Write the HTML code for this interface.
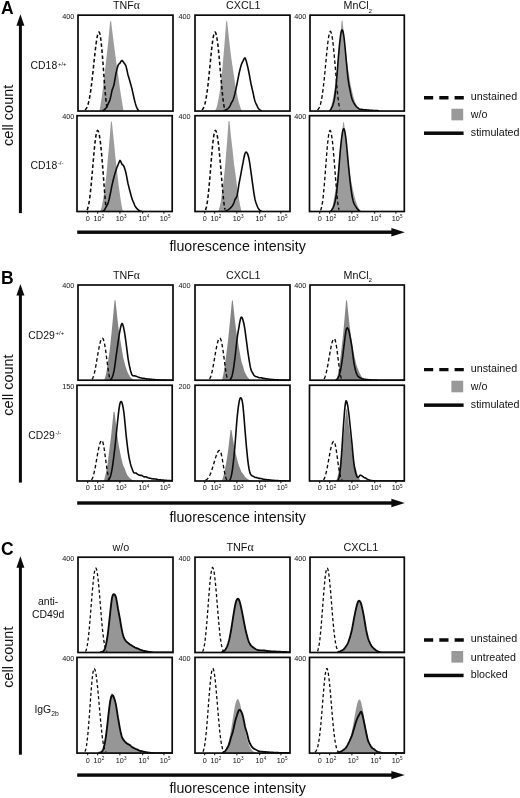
<!DOCTYPE html>
<html lang="en">
<head>
<meta charset="utf-8">
<title>Figure</title>
<style>
html,body{margin:0;padding:0;background:#ffffff;}
body{width:520px;height:798px;overflow:hidden;}
svg{display:block;will-change:transform;}
text{font-family:"Liberation Sans", Arial, Helvetica, sans-serif;fill:#111111;}
.letter{font-size:17.5px;font-weight:700;fill:#000;}
.t14{font-size:14.2px;}
.t10{font-size:10.7px;}
.t10c{font-size:10.8px;}
.t10r{font-size:10.4px;}
.t14r{font-size:14.5px;}
.t105{font-size:10.7px;}
.t7{font-size:7.3px;}
</style>
</head>
<body>
<svg width="520" height="798" viewBox="0 0 520 798">
<rect width="520" height="798" fill="#ffffff"/>
<text x="0.9" y="13.8" class="letter">A</text>
<rect x="18.90" y="23.15" width="3" height="189.95" fill="#0a0a0a"/>
<path d="M20.40 14.15 L24.40 25.75 L16.40 25.75 Z" fill="#0a0a0a"/>
<text transform="translate(12.5 115.3) rotate(-90)" text-anchor="middle" class="t14r">cell count</text>
<text x="126.5" y="8.9" text-anchor="middle" class="t10">TNF<tspan font-family='"Liberation Serif", "DejaVu Serif", serif' font-size="11.6">α</tspan></text>
<text x="243.3" y="8.9" text-anchor="middle" class="t10">CXCL1</text>
<text x="357.8" y="8.9" text-anchor="middle" class="t10">MnCl<tspan dy="3.6" font-size="6.2">2</tspan></text>
<clipPath id="cp_A00"><rect x="78.00" y="15.15" width="95.00" height="95.90"/></clipPath>
<g clip-path="url(#cp_A00)">
<path d="M78.00 111.05 L78.50 111.05 L79.00 111.05 L79.50 111.05 L80.00 111.05 L80.50 111.05 L81.00 111.05 L81.50 111.05 L82.00 111.05 L82.50 111.05 L83.00 111.05 L83.50 111.05 L84.00 111.05 L84.50 111.05 L85.00 111.05 L85.50 111.05 L86.00 111.05 L86.50 111.05 L87.00 111.05 L87.50 111.05 L88.00 111.05 L88.50 111.05 L89.00 111.05 L89.50 111.05 L90.00 111.05 L90.50 111.05 L91.00 111.05 L91.50 111.05 L92.00 111.05 L92.50 111.05 L93.00 111.05 L93.50 111.05 L94.00 111.05 L94.50 111.05 L95.00 111.05 L95.50 111.05 L96.00 111.05 L96.50 111.05 L97.00 111.05 L97.50 111.05 L98.00 111.05 L98.50 111.05 L99.00 111.05 L99.50 111.05 L100.00 107.69 L100.50 104.74 L101.00 101.76 L101.50 98.73 L102.00 95.63 L102.50 91.55 L103.00 87.32 L103.50 82.94 L104.00 78.88 L104.50 74.69 L105.00 70.40 L105.50 66.03 L106.00 61.57 L106.50 57.01 L107.00 52.67 L107.50 48.25 L108.00 43.75 L108.50 38.52 L109.00 33.23 L109.50 27.87 L110.00 22.59 L110.50 20.92 L111.00 20.82 L111.50 24.63 L112.00 28.82 L112.50 32.99 L113.00 36.97 L113.50 40.94 L114.00 44.88 L114.50 48.70 L115.00 52.49 L115.50 56.25 L116.00 60.07 L116.50 63.85 L117.00 67.60 L117.50 70.96 L118.00 74.29 L118.50 77.57 L119.00 81.39 L119.50 85.16 L120.00 88.88 L120.50 92.22 L121.00 95.50 L121.50 98.68 L122.00 101.71 L122.50 104.68 L123.00 107.54 L123.50 111.05 L124.00 111.05 L124.50 111.05 L125.00 111.05 L125.50 111.05 L126.00 111.05 L126.50 111.05 L127.00 111.05 L127.50 111.05 L128.00 111.05 L128.50 111.05 L129.00 111.05 L129.50 111.05 L130.00 111.05 L130.50 111.05 L131.00 111.05 L131.50 111.05 L132.00 111.05 L132.50 111.05 L133.00 111.05 L133.50 111.05 L134.00 111.05 L134.50 111.05 L135.00 111.05 L135.50 111.05 L136.00 111.05 L136.50 111.05 L137.00 111.05 L137.50 111.05 L138.00 111.05 L138.50 111.05 L139.00 111.05 L139.50 111.05 L140.00 111.05 L140.50 111.05 L141.00 111.05 L141.50 111.05 L142.00 111.05 L142.50 111.05 L143.00 111.05 L143.50 111.05 L144.00 111.05 L144.50 111.05 L145.00 111.05 L145.50 111.05 L146.00 111.05 L146.50 111.05 L147.00 111.05 L147.50 111.05 L148.00 111.05 L148.50 111.05 L149.00 111.05 L149.50 111.05 L150.00 111.05 L150.50 111.05 L151.00 111.05 L151.50 111.05 L152.00 111.05 L152.50 111.05 L153.00 111.05 L153.50 111.05 L154.00 111.05 L154.50 111.05 L155.00 111.05 L155.50 111.05 L156.00 111.05 L156.50 111.05 L157.00 111.05 L157.50 111.05 L158.00 111.05 L158.50 111.05 L159.00 111.05 L159.50 111.05 L160.00 111.05 L160.50 111.05 L161.00 111.05 L161.50 111.05 L162.00 111.05 L162.50 111.05 L163.00 111.05 L163.50 111.05 L164.00 111.05 L164.50 111.05 L165.00 111.05 L165.50 111.05 L166.00 111.05 L166.50 111.05 L167.00 111.05 L167.50 111.05 L168.00 111.05 L168.50 111.05 L169.00 111.05 L169.50 111.05 L170.00 111.05 L170.50 111.05 L171.00 111.05 L171.50 111.05 L172.00 111.05 L172.50 111.05 L173.00 111.05 L173.00 111.05 L78.00 111.05 Z" fill="#9c9c9c"/>
<path d="M85.00 109.95 L85.50 109.49 L86.00 108.90 L86.50 108.12 L87.00 107.14 L87.50 105.93 L88.00 104.44 L88.50 102.65 L89.00 100.54 L89.50 98.09 L90.00 95.27 L90.50 92.10 L91.00 88.58 L91.50 84.72 L92.00 80.56 L92.50 76.15 L93.00 71.55 L93.50 66.82 L94.00 62.05 L94.50 57.33 L95.00 52.75 L95.50 48.41 L96.00 44.41 L96.50 40.84 L97.00 37.78 L97.50 35.32 L98.00 33.52 L98.50 32.42 L99.00 32.05 L99.50 32.62 L100.00 34.31 L100.50 37.08 L101.00 40.84 L101.50 45.51 L102.00 50.94 L102.50 56.98 L103.00 63.46 L103.50 70.19 L104.00 76.97 L104.50 83.59 L105.00 89.84 L105.50 95.53 L106.00 100.48 L106.50 104.54 L107.00 107.61 L107.50 109.66" fill="none" stroke="#0a0a0a" stroke-width="1.55" stroke-dasharray="3.6 2.5"/>
<path d="M102.00 110.72 L102.50 110.59 L103.00 110.43 L103.50 110.21 L104.00 110.00 L104.50 109.64 L105.00 109.19 L105.50 108.62 L106.00 107.93 L106.50 107.19 L107.00 106.31 L107.50 105.30 L108.00 104.15 L108.50 103.12 L109.00 102.04 L109.50 100.91 L110.00 99.74 L110.50 97.64 L111.00 95.33 L111.50 92.92 L112.00 90.41 L112.50 89.10 L113.00 87.73 L113.50 86.29 L114.00 84.82 L114.50 81.90 L115.00 79.00 L115.50 76.12 L116.00 73.31 L116.50 71.16 L117.00 69.13 L117.50 67.24 L118.00 65.50 L118.50 64.62 L119.00 63.94 L119.50 63.48 L120.00 63.25 L120.50 62.19 L121.00 61.38 L121.50 60.83 L122.00 60.47 L122.50 60.87 L123.00 61.42 L123.50 62.14 L124.00 63.01 L124.50 63.56 L125.00 64.27 L125.50 65.11 L126.00 66.08 L126.50 68.15 L127.00 70.34 L127.50 72.64 L128.00 75.03 L128.50 76.60 L129.00 78.24 L129.50 79.96 L130.00 81.72 L130.50 83.51 L131.00 85.33 L131.50 87.16 L132.00 88.99 L132.50 91.30 L133.00 93.57 L133.50 95.79 L134.00 97.99 L134.50 100.14 L135.00 102.11 L135.50 103.89 L136.00 105.49 L136.50 106.86 L137.00 108.04 L137.50 109.02 L138.00 109.81 L138.50 110.31 L139.00 110.75" fill="none" stroke="#0a0a0a" stroke-width="1.60" stroke-linejoin="round"/>
</g>
<rect x="78.00" y="15.15" width="95.00" height="95.90" fill="none" stroke="#0a0a0a" stroke-width="1.70"/>
<text x="74.4" y="18.6" text-anchor="end" class="t7">400</text>
<clipPath id="cp_A01"><rect x="195.00" y="15.15" width="95.00" height="95.90"/></clipPath>
<g clip-path="url(#cp_A01)">
<path d="M195.00 111.05 L195.50 111.05 L196.00 111.05 L196.50 111.05 L197.00 111.05 L197.50 111.05 L198.00 111.05 L198.50 111.05 L199.00 111.05 L199.50 111.05 L200.00 111.05 L200.50 111.05 L201.00 111.05 L201.50 111.05 L202.00 111.05 L202.50 111.05 L203.00 111.05 L203.50 111.05 L204.00 111.05 L204.50 111.05 L205.00 111.05 L205.50 111.05 L206.00 111.05 L206.50 111.05 L207.00 111.05 L207.50 111.05 L208.00 111.05 L208.50 111.05 L209.00 111.05 L209.50 111.05 L210.00 111.05 L210.50 111.05 L211.00 111.05 L211.50 111.05 L212.00 111.05 L212.50 111.05 L213.00 111.05 L213.50 111.05 L214.00 111.05 L214.50 111.05 L215.00 110.73 L215.50 110.06 L216.00 109.04 L216.50 107.65 L217.00 105.90 L217.50 103.78 L218.00 101.55 L218.50 99.09 L219.00 96.36 L219.50 93.15 L220.00 89.64 L220.50 85.83 L221.00 81.57 L221.50 77.01 L222.00 72.17 L222.50 66.90 L223.00 61.35 L223.50 55.52 L224.00 49.70 L224.50 43.59 L225.00 37.21 L225.50 30.24 L226.00 23.00 L226.50 20.63 L227.00 20.59 L227.50 24.73 L228.00 29.25 L228.50 33.95 L229.00 38.55 L229.50 43.06 L230.00 47.42 L230.50 51.68 L231.00 55.84 L231.50 59.33 L232.00 62.72 L232.50 66.00 L233.00 69.53 L233.50 72.95 L234.00 76.25 L234.50 79.67 L235.00 82.97 L235.50 86.15 L236.00 88.83 L236.50 91.38 L237.00 93.79 L237.50 96.44 L238.00 98.93 L238.50 101.20 L239.00 102.91 L239.50 104.56 L240.00 106.11 L240.50 107.65 L241.00 108.95 L241.50 109.99 L242.00 111.05 L242.50 111.05 L243.00 111.05 L243.50 111.05 L244.00 111.05 L244.50 111.05 L245.00 111.05 L245.50 111.05 L246.00 111.05 L246.50 111.05 L247.00 111.05 L247.50 111.05 L248.00 111.05 L248.50 111.05 L249.00 111.05 L249.50 111.05 L250.00 111.05 L250.50 111.05 L251.00 111.05 L251.50 111.05 L252.00 111.05 L252.50 111.05 L253.00 111.05 L253.50 111.05 L254.00 111.05 L254.50 111.05 L255.00 111.05 L255.50 111.05 L256.00 111.05 L256.50 111.05 L257.00 111.05 L257.50 111.05 L258.00 111.05 L258.50 111.05 L259.00 111.05 L259.50 111.05 L260.00 111.05 L260.50 111.05 L261.00 111.05 L261.50 111.05 L262.00 111.05 L262.50 111.05 L263.00 111.05 L263.50 111.05 L264.00 111.05 L264.50 111.05 L265.00 111.05 L265.50 111.05 L266.00 111.05 L266.50 111.05 L267.00 111.05 L267.50 111.05 L268.00 111.05 L268.50 111.05 L269.00 111.05 L269.50 111.05 L270.00 111.05 L270.50 111.05 L271.00 111.05 L271.50 111.05 L272.00 111.05 L272.50 111.05 L273.00 111.05 L273.50 111.05 L274.00 111.05 L274.50 111.05 L275.00 111.05 L275.50 111.05 L276.00 111.05 L276.50 111.05 L277.00 111.05 L277.50 111.05 L278.00 111.05 L278.50 111.05 L279.00 111.05 L279.50 111.05 L280.00 111.05 L280.50 111.05 L281.00 111.05 L281.50 111.05 L282.00 111.05 L282.50 111.05 L283.00 111.05 L283.50 111.05 L284.00 111.05 L284.50 111.05 L285.00 111.05 L285.50 111.05 L286.00 111.05 L286.50 111.05 L287.00 111.05 L287.50 111.05 L288.00 111.05 L288.50 111.05 L289.00 111.05 L289.50 111.05 L290.00 111.05 L290.00 111.05 L195.00 111.05 Z" fill="#9c9c9c"/>
<path d="M202.00 109.95 L202.50 109.45 L203.00 108.77 L203.50 107.88 L204.00 106.74 L204.50 105.31 L205.00 103.55 L205.50 101.43 L206.00 98.91 L206.50 95.98 L207.00 92.64 L207.50 88.89 L208.00 84.76 L208.50 80.28 L209.00 75.52 L209.50 70.54 L210.00 65.45 L210.50 60.34 L211.00 55.32 L211.50 50.52 L212.00 46.05 L212.50 42.04 L213.00 38.59 L213.50 35.79 L214.00 33.73 L214.50 32.47 L215.00 32.05 L215.50 32.46 L216.00 33.69 L216.50 35.70 L217.00 38.47 L217.50 41.93 L218.00 46.03 L218.50 50.67 L219.00 55.77 L219.50 61.22 L220.00 66.91 L220.50 72.71 L221.00 78.51 L221.50 84.16 L222.00 89.54 L222.50 94.52 L223.00 98.99 L223.50 102.84 L224.00 105.98 L224.50 108.36 L225.00 109.95" fill="none" stroke="#0a0a0a" stroke-width="1.55" stroke-dasharray="3.6 2.5"/>
<path d="M223.50 110.79 L224.00 110.64 L224.50 110.47 L225.00 110.27 L225.50 110.07 L226.00 109.84 L226.50 109.58 L227.00 109.29 L227.50 108.92 L228.00 108.50 L228.50 108.01 L229.00 107.46 L229.50 106.70 L230.00 105.82 L230.50 104.79 L231.00 103.60 L231.50 102.78 L232.00 101.92 L232.50 101.02 L233.00 100.08 L233.50 98.60 L234.00 96.97 L234.50 95.16 L235.00 93.23 L235.50 91.08 L236.00 88.81 L236.50 86.44 L237.00 83.97 L237.50 81.46 L238.00 78.89 L238.50 76.31 L239.00 73.73 L239.50 71.61 L240.00 69.56 L240.50 67.63 L241.00 65.83 L241.50 64.30 L242.00 62.99 L242.50 61.92 L243.00 61.11 L243.50 59.84 L244.00 58.87 L244.50 58.23 L245.00 57.93 L245.50 58.91 L246.00 60.29 L246.50 62.03 L247.00 64.12 L247.50 66.00 L248.00 68.14 L248.50 70.50 L249.00 73.03 L249.50 75.65 L250.00 78.34 L250.50 81.05 L251.00 83.74 L251.50 86.03 L252.00 88.24 L252.50 90.32 L253.00 92.27 L253.50 94.83 L254.00 97.23 L254.50 99.40 L255.00 101.31 L255.50 102.55 L256.00 103.69 L256.50 104.74 L257.00 105.69 L257.50 106.79 L258.00 107.71 L258.50 108.47 L259.00 109.09 L259.50 109.54 L260.00 109.93 L260.50 110.17 L261.00 110.45 L261.50 110.69 L262.00 110.89" fill="none" stroke="#0a0a0a" stroke-width="1.60" stroke-linejoin="round"/>
</g>
<rect x="195.00" y="15.15" width="95.00" height="95.90" fill="none" stroke="#0a0a0a" stroke-width="1.70"/>
<text x="190.7" y="18.6" text-anchor="end" class="t7">400</text>
<clipPath id="cp_A02"><rect x="310.00" y="15.15" width="94.30" height="95.90"/></clipPath>
<g clip-path="url(#cp_A02)">
<path d="M310.00 111.05 L310.50 111.05 L311.00 111.05 L311.50 111.05 L312.00 111.05 L312.50 111.05 L313.00 111.05 L313.50 111.05 L314.00 111.05 L314.50 111.05 L315.00 111.05 L315.50 111.05 L316.00 111.05 L316.50 111.05 L317.00 111.05 L317.50 111.05 L318.00 111.05 L318.50 111.05 L319.00 111.05 L319.50 111.05 L320.00 111.05 L320.50 111.05 L321.00 111.05 L321.50 111.05 L322.00 111.05 L322.50 111.05 L323.00 111.05 L323.50 111.05 L324.00 111.05 L324.50 111.05 L325.00 111.05 L325.50 111.05 L326.00 111.05 L326.50 111.05 L327.00 111.05 L327.50 111.05 L328.00 111.05 L328.50 111.05 L329.00 110.63 L329.50 109.97 L330.00 109.07 L330.50 107.93 L331.00 106.54 L331.50 104.81 L332.00 102.78 L332.50 100.45 L333.00 98.06 L333.50 95.49 L334.00 92.75 L334.50 90.03 L335.00 87.06 L335.50 83.86 L336.00 79.51 L336.50 74.93 L337.00 70.10 L337.50 65.71 L338.00 61.08 L338.50 56.20 L339.00 51.07 L339.50 45.71 L340.00 40.10 L340.50 34.17 L341.00 27.99 L341.50 21.57 L342.00 20.50 L342.50 20.61 L343.00 25.47 L343.50 30.71 L344.00 35.78 L344.50 40.66 L345.00 45.00 L345.50 49.17 L346.00 53.17 L346.50 57.30 L347.00 61.26 L347.50 65.06 L348.00 68.47 L348.50 71.72 L349.00 74.79 L349.50 78.06 L350.00 81.15 L350.50 84.09 L351.00 86.54 L351.50 88.84 L352.00 90.98 L352.50 93.10 L353.00 95.07 L353.50 96.89 L354.00 98.73 L354.50 100.38 L355.00 101.89 L355.50 102.94 L356.00 103.94 L356.50 104.87 L357.00 106.01 L357.50 106.97 L358.00 107.77 L358.50 108.28 L359.00 108.70 L359.50 109.02 L360.00 109.26 L360.50 109.43 L361.00 109.47 L361.50 109.54 L362.00 109.61 L362.50 109.67 L363.00 109.75 L363.50 109.82 L364.00 109.89 L364.50 109.90 L365.00 109.91 L365.50 109.92 L366.00 109.97 L366.50 110.02 L367.00 110.09 L367.50 110.12 L368.00 110.16 L368.50 110.20 L369.00 110.23 L369.50 110.27 L370.00 110.30 L370.50 110.33 L371.00 110.37 L371.50 110.40 L372.00 110.43 L372.50 110.45 L373.00 110.48 L373.50 110.51 L374.00 110.53 L374.50 110.56 L375.00 110.58 L375.50 110.61 L376.00 110.63 L376.50 110.65 L377.00 110.67 L377.50 110.69 L378.00 110.71 L378.50 110.73 L379.00 110.75 L379.50 110.76 L380.00 110.78 L380.50 110.80 L381.00 110.81 L381.50 110.83 L382.00 110.84 L382.50 110.85 L383.00 110.87 L383.50 110.88 L384.00 110.89 L384.50 110.90 L385.00 110.91 L385.50 110.92 L386.00 110.93 L386.50 110.94 L387.00 110.95 L387.50 110.96 L388.00 110.97 L388.50 110.97 L389.00 110.98 L389.50 110.99 L390.00 110.99 L390.50 111.00 L391.00 111.01 L391.50 111.01 L392.00 111.02 L392.50 111.02 L393.00 111.03 L393.50 111.03 L394.00 111.04 L394.50 111.04 L395.00 111.05 L395.50 111.05 L396.00 111.05 L396.50 111.05 L397.00 111.05 L397.50 111.05 L398.00 111.05 L398.50 111.05 L399.00 111.05 L399.50 111.05 L400.00 111.05 L400.50 111.05 L401.00 111.05 L401.50 111.05 L402.00 111.05 L402.50 111.05 L403.00 111.05 L403.50 111.05 L404.00 111.05 L404.50 111.05 L404.50 111.05 L310.00 111.05 Z" fill="#9c9c9c"/>
<path d="M317.50 110.03 L318.00 109.57 L318.50 108.96 L319.00 108.15 L319.50 107.10 L320.00 105.77 L320.50 104.12 L321.00 102.10 L321.50 99.69 L322.00 96.85 L322.50 93.58 L323.00 89.87 L323.50 85.73 L324.00 81.21 L324.50 76.36 L325.00 71.25 L325.50 65.98 L326.00 60.66 L326.50 55.42 L327.00 50.39 L327.50 45.70 L328.00 41.49 L328.50 37.89 L329.00 35.01 L329.50 32.94 L330.00 31.75 L330.50 31.47 L331.00 32.10 L331.50 33.61 L332.00 35.99 L332.50 39.16 L333.00 43.06 L333.50 47.61 L334.00 52.71 L334.50 58.23 L335.00 64.05 L335.50 70.04 L336.00 76.06 L336.50 81.96 L337.00 87.59 L337.50 92.83 L338.00 97.55 L338.50 101.64 L339.00 105.01 L339.50 107.61 L340.00 109.43" fill="none" stroke="#0a0a0a" stroke-width="1.35" stroke-dasharray="3.6 2.5"/>
<path d="M329.00 111.00 L329.50 110.67 L330.00 110.24 L330.50 109.78 L331.00 109.10 L331.50 108.23 L332.00 107.12 L332.50 105.94 L333.00 104.53 L333.50 102.88 L334.00 100.97 L334.50 98.33 L335.00 94.87 L335.50 90.89 L336.00 86.36 L336.50 80.83 L337.00 74.85 L337.50 68.49 L338.00 61.90 L338.50 56.03 L339.00 50.29 L339.50 44.93 L340.00 40.16 L340.50 35.91 L341.00 32.68 L341.50 30.64 L342.00 29.88 L342.50 30.21 L343.00 31.61 L343.50 34.00 L344.00 37.25 L344.50 41.73 L345.00 46.75 L345.50 52.11 L346.00 57.66 L346.50 63.14 L347.00 68.49 L347.50 73.59 L348.00 78.36 L348.50 81.86 L349.00 84.95 L349.50 87.62 L350.00 89.89 L350.50 92.57 L351.00 94.90 L351.50 96.94 L352.00 98.74 L352.50 100.10 L353.00 101.27 L353.50 102.28 L354.00 103.16 L354.50 103.98 L355.00 104.72 L355.50 105.46 L356.00 106.13 L356.50 106.62 L357.00 107.08 L357.50 107.49 L358.00 107.87 L358.50 108.36 L359.00 108.78 L359.50 109.13 L360.00 109.36 L360.50 109.37 L361.00 109.38 L361.50 109.40 L362.00 109.42 L362.50 109.51 L363.00 109.59 L363.50 109.68 L364.00 109.76 L364.50 109.79 L365.00 109.82 L365.50 109.85 L366.00 109.88 L366.50 109.92 L367.00 109.96 L367.50 110.00 L368.00 110.07 L368.50 110.11 L369.00 110.15 L369.50 110.19 L370.00 110.23 L370.50 110.26 L371.00 110.30 L371.50 110.33 L372.00 110.36 L372.50 110.39 L373.00 110.43 L373.50 110.45 L374.00 110.48 L374.50 110.51 L375.00 110.54 L375.50 110.56 L376.00 110.59 L376.50 110.61 L377.00 110.63 L377.50 110.66 L378.00 110.68 L378.50 110.70 L379.00 110.72" fill="none" stroke="#0a0a0a" stroke-width="1.60" stroke-linejoin="round"/>
</g>
<rect x="310.00" y="15.15" width="94.30" height="95.90" fill="none" stroke="#0a0a0a" stroke-width="1.70"/>
<text x="306.4" y="18.6" text-anchor="end" class="t7">400</text>
<clipPath id="cp_A10"><rect x="77.00" y="115.70" width="95.20" height="95.80"/></clipPath>
<g clip-path="url(#cp_A10)">
<path d="M78.00 211.50 L78.50 211.50 L79.00 211.50 L79.50 211.50 L80.00 211.50 L80.50 211.50 L81.00 211.50 L81.50 211.50 L82.00 211.50 L82.50 211.50 L83.00 211.50 L83.50 211.50 L84.00 211.50 L84.50 211.50 L85.00 211.50 L85.50 211.50 L86.00 211.50 L86.50 211.50 L87.00 211.50 L87.50 211.50 L88.00 211.50 L88.50 211.50 L89.00 211.50 L89.50 211.50 L90.00 211.50 L90.50 211.50 L91.00 211.50 L91.50 211.50 L92.00 211.50 L92.50 211.50 L93.00 211.50 L93.50 211.50 L94.00 211.50 L94.50 211.50 L95.00 211.50 L95.50 211.50 L96.00 211.50 L96.50 211.50 L97.00 211.50 L97.50 211.50 L98.00 211.50 L98.50 211.50 L99.00 211.50 L99.50 211.50 L100.00 211.50 L100.50 210.51 L101.00 209.20 L101.50 207.46 L102.00 205.33 L102.50 202.80 L103.00 199.89 L103.50 196.63 L104.00 193.50 L104.50 190.08 L105.00 186.40 L105.50 182.42 L106.00 178.19 L106.50 173.71 L107.00 168.38 L107.50 162.81 L108.00 157.02 L108.50 151.55 L109.00 145.87 L109.50 139.97 L110.00 133.70 L110.50 127.22 L111.00 121.22 L111.50 121.24 L112.00 122.84 L112.50 128.06 L113.00 132.98 L113.50 137.82 L114.00 142.58 L114.50 147.84 L115.00 153.00 L115.50 158.07 L116.00 162.44 L116.50 166.72 L117.00 170.89 L117.50 175.41 L118.00 179.83 L118.50 184.11 L119.00 187.90 L119.50 191.55 L120.00 195.03 L120.50 198.42 L121.00 201.65 L121.50 204.66 L122.00 207.48 L122.50 209.83 L123.00 211.50 L123.50 211.50 L124.00 211.50 L124.50 211.50 L125.00 211.50 L125.50 211.50 L126.00 211.50 L126.50 211.50 L127.00 211.50 L127.50 211.50 L128.00 211.50 L128.50 211.50 L129.00 211.50 L129.50 211.50 L130.00 211.50 L130.50 211.50 L131.00 211.50 L131.50 211.50 L132.00 211.50 L132.50 211.50 L133.00 211.50 L133.50 211.50 L134.00 211.50 L134.50 211.50 L135.00 211.50 L135.50 211.50 L136.00 211.50 L136.50 211.50 L137.00 211.50 L137.50 211.50 L138.00 211.50 L138.50 211.50 L139.00 211.50 L139.50 211.50 L140.00 211.50 L140.50 211.50 L141.00 211.50 L141.50 211.50 L142.00 211.50 L142.50 211.50 L143.00 211.50 L143.50 211.50 L144.00 211.50 L144.50 211.50 L145.00 211.50 L145.50 211.50 L146.00 211.50 L146.50 211.50 L147.00 211.50 L147.50 211.50 L148.00 211.50 L148.50 211.50 L149.00 211.50 L149.50 211.50 L150.00 211.50 L150.50 211.50 L151.00 211.50 L151.50 211.50 L152.00 211.50 L152.50 211.50 L153.00 211.50 L153.50 211.50 L154.00 211.50 L154.50 211.50 L155.00 211.50 L155.50 211.50 L156.00 211.50 L156.50 211.50 L157.00 211.50 L157.50 211.50 L158.00 211.50 L158.50 211.50 L159.00 211.50 L159.50 211.50 L160.00 211.50 L160.50 211.50 L161.00 211.50 L161.50 211.50 L162.00 211.50 L162.50 211.50 L163.00 211.50 L163.50 211.50 L164.00 211.50 L164.50 211.50 L165.00 211.50 L165.50 211.50 L166.00 211.50 L166.50 211.50 L167.00 211.50 L167.50 211.50 L168.00 211.50 L168.50 211.50 L169.00 211.50 L169.50 211.50 L170.00 211.50 L170.50 211.50 L171.00 211.50 L171.50 211.50 L172.00 211.50 L172.50 211.50 L173.00 211.50 L173.00 211.50 L78.00 211.50 Z" fill="#9c9c9c"/>
<path d="M87.00 210.16 L87.50 209.09 L88.00 207.57 L88.50 205.51 L89.00 202.87 L89.50 199.64 L90.00 195.82 L90.50 191.44 L91.00 186.55 L91.50 181.25 L92.00 175.64 L92.50 169.83 L93.00 163.96 L93.50 158.17 L94.00 152.60 L94.50 147.40 L95.00 142.70 L95.50 138.63 L96.00 135.30 L96.50 132.80 L97.00 131.19 L97.50 130.52 L98.00 130.75 L98.50 131.76 L99.00 133.54 L99.50 136.07 L100.00 139.32 L100.50 143.24 L101.00 147.80 L101.50 152.93 L102.00 158.57 L102.50 164.62 L103.00 171.00 L103.50 177.58 L104.00 184.24 L104.50 190.80 L105.00 197.07 L105.50 202.78 L106.00 207.59" fill="none" stroke="#0a0a0a" stroke-width="1.55" stroke-dasharray="3.6 2.5"/>
<path d="M102.50 211.26 L103.00 211.06 L103.50 210.78 L104.00 210.30 L104.50 209.75 L105.00 209.05 L105.50 208.19 L106.00 207.16 L106.50 206.25 L107.00 205.30 L107.50 204.34 L108.00 203.39 L108.50 201.66 L109.00 199.73 L109.50 197.59 L110.00 195.27 L110.50 192.83 L111.00 190.32 L111.50 187.75 L112.00 185.14 L112.50 183.08 L113.00 181.02 L113.50 178.99 L114.00 177.01 L114.50 175.15 L115.00 173.38 L115.50 171.72 L116.00 170.18 L116.50 168.65 L117.00 167.29 L117.50 166.09 L118.00 165.08 L118.50 163.60 L119.00 162.33 L119.50 161.27 L120.00 160.43 L120.50 161.10 L121.00 162.00 L121.50 163.11 L122.00 164.45 L122.50 164.68 L123.00 165.11 L123.50 165.73 L124.00 166.53 L124.50 167.98 L125.00 169.58 L125.50 171.30 L126.00 173.13 L126.50 175.69 L127.00 178.32 L127.50 180.98 L128.00 183.67 L128.50 185.63 L129.00 187.58 L129.50 189.49 L130.00 191.35 L130.50 193.31 L131.00 195.19 L131.50 196.98 L132.00 198.65 L132.50 199.98 L133.00 201.24 L133.50 202.44 L134.00 203.55 L134.50 204.76 L135.00 205.83 L135.50 206.77 L136.00 207.59 L136.50 208.16 L137.00 208.68 L137.50 209.14 L138.00 209.55 L138.50 209.96 L139.00 210.29 L139.50 210.65 L140.00 210.86 L140.50 211.02 L141.00 211.15 L141.50 211.24" fill="none" stroke="#0a0a0a" stroke-width="1.60" stroke-linejoin="round"/>
</g>
<rect x="77.00" y="115.70" width="95.20" height="95.80" fill="none" stroke="#0a0a0a" stroke-width="1.70"/>
<text x="74.4" y="119.0" text-anchor="end" class="t7">400</text>
<clipPath id="cp_A11"><rect x="195.00" y="115.70" width="95.00" height="95.80"/></clipPath>
<g clip-path="url(#cp_A11)">
<path d="M195.00 211.50 L195.50 211.50 L196.00 211.50 L196.50 211.50 L197.00 211.50 L197.50 211.50 L198.00 211.50 L198.50 211.50 L199.00 211.50 L199.50 211.50 L200.00 211.50 L200.50 211.50 L201.00 211.50 L201.50 211.50 L202.00 211.50 L202.50 211.50 L203.00 211.50 L203.50 211.50 L204.00 211.50 L204.50 211.50 L205.00 211.50 L205.50 211.50 L206.00 211.50 L206.50 211.50 L207.00 211.50 L207.50 211.50 L208.00 211.50 L208.50 211.50 L209.00 211.50 L209.50 211.50 L210.00 211.50 L210.50 211.50 L211.00 211.50 L211.50 211.50 L212.00 211.50 L212.50 211.50 L213.00 211.50 L213.50 211.50 L214.00 211.50 L214.50 211.50 L215.00 211.50 L215.50 211.50 L216.00 211.50 L216.50 211.50 L217.00 211.50 L217.50 211.50 L218.00 211.50 L218.50 210.51 L219.00 209.05 L219.50 207.35 L220.00 205.41 L220.50 203.29 L221.00 200.15 L221.50 196.46 L222.00 192.40 L222.50 189.01 L223.00 185.32 L223.50 181.35 L224.00 176.72 L224.50 171.81 L225.00 166.63 L225.50 160.86 L226.00 154.82 L226.50 148.53 L227.00 142.13 L227.50 135.48 L228.00 128.59 L228.50 121.53 L229.00 120.75 L229.50 121.17 L230.00 126.36 L230.50 131.49 L231.00 136.54 L231.50 140.88 L232.00 145.15 L232.50 149.33 L233.00 154.19 L233.50 158.96 L234.00 163.64 L234.50 167.19 L235.00 170.64 L235.50 173.99 L236.00 178.20 L236.50 182.30 L237.00 186.28 L237.50 189.58 L238.00 192.74 L238.50 195.76 L239.00 199.00 L239.50 201.97 L240.00 204.65 L240.50 206.95 L241.00 208.97 L241.50 211.50 L242.00 211.50 L242.50 211.50 L243.00 211.50 L243.50 211.50 L244.00 211.50 L244.50 211.50 L245.00 211.50 L245.50 211.50 L246.00 211.50 L246.50 211.50 L247.00 211.50 L247.50 211.50 L248.00 211.50 L248.50 211.50 L249.00 211.50 L249.50 211.50 L250.00 211.50 L250.50 211.50 L251.00 211.50 L251.50 211.50 L252.00 211.50 L252.50 211.50 L253.00 211.50 L253.50 211.50 L254.00 211.50 L254.50 211.50 L255.00 211.50 L255.50 211.50 L256.00 211.50 L256.50 211.50 L257.00 211.50 L257.50 211.50 L258.00 211.50 L258.50 211.50 L259.00 211.50 L259.50 211.50 L260.00 211.50 L260.50 211.50 L261.00 211.50 L261.50 211.50 L262.00 211.50 L262.50 211.50 L263.00 211.50 L263.50 211.50 L264.00 211.50 L264.50 211.50 L265.00 211.50 L265.50 211.50 L266.00 211.50 L266.50 211.50 L267.00 211.50 L267.50 211.50 L268.00 211.50 L268.50 211.50 L269.00 211.50 L269.50 211.50 L270.00 211.50 L270.50 211.50 L271.00 211.50 L271.50 211.50 L272.00 211.50 L272.50 211.50 L273.00 211.50 L273.50 211.50 L274.00 211.50 L274.50 211.50 L275.00 211.50 L275.50 211.50 L276.00 211.50 L276.50 211.50 L277.00 211.50 L277.50 211.50 L278.00 211.50 L278.50 211.50 L279.00 211.50 L279.50 211.50 L280.00 211.50 L280.50 211.50 L281.00 211.50 L281.50 211.50 L282.00 211.50 L282.50 211.50 L283.00 211.50 L283.50 211.50 L284.00 211.50 L284.50 211.50 L285.00 211.50 L285.50 211.50 L286.00 211.50 L286.50 211.50 L287.00 211.50 L287.50 211.50 L288.00 211.50 L288.50 211.50 L289.00 211.50 L289.50 211.50 L290.00 211.50 L290.00 211.50 L195.00 211.50 Z" fill="#9c9c9c"/>
<path d="M205.50 209.96 L206.00 208.63 L206.50 206.71 L207.00 204.14 L207.50 200.90 L208.00 196.99 L208.50 192.45 L209.00 187.35 L209.50 181.78 L210.00 175.88 L210.50 169.77 L211.00 163.62 L211.50 157.58 L212.00 151.81 L212.50 146.48 L213.00 141.72 L213.50 137.68 L214.00 134.46 L214.50 132.15 L215.00 130.83 L215.50 130.52 L216.00 131.05 L216.50 132.33 L217.00 134.34 L217.50 137.06 L218.00 140.44 L218.50 144.43 L219.00 148.97 L219.50 153.98 L220.00 159.39 L220.50 165.10 L221.00 171.00 L221.50 176.98 L222.00 182.92 L222.50 188.68 L223.00 194.13 L223.50 199.11 L224.00 203.46 L224.50 207.03 L225.00 209.65" fill="none" stroke="#0a0a0a" stroke-width="1.55" stroke-dasharray="3.6 2.5"/>
<path d="M225.00 211.23 L225.50 211.08 L226.00 210.90 L226.50 210.71 L227.00 210.41 L227.50 210.15 L228.00 209.86 L228.50 209.55 L229.00 209.20 L229.50 208.81 L230.00 208.38 L230.50 207.90 L231.00 207.37 L231.50 206.80 L232.00 206.16 L232.50 205.46 L233.00 204.69 L233.50 203.64 L234.00 202.45 L234.50 201.09 L235.00 199.55 L235.50 198.76 L236.00 197.98 L236.50 197.15 L237.00 196.15 L237.50 193.32 L238.00 190.30 L238.50 187.10 L239.00 183.73 L239.50 181.29 L240.00 178.72 L240.50 176.04 L241.00 173.30 L241.50 170.58 L242.00 167.90 L242.50 165.31 L243.00 162.88 L243.50 160.03 L244.00 157.46 L244.50 155.23 L245.00 153.40 L245.50 152.54 L246.00 152.14 L246.50 152.23 L247.00 152.89 L247.50 153.64 L248.00 154.95 L248.50 156.78 L249.00 159.06 L249.50 161.94 L250.00 165.11 L250.50 168.51 L251.00 172.03 L251.50 175.80 L252.00 179.55 L252.50 183.22 L253.00 186.73 L253.50 190.27 L254.00 193.58 L254.50 196.64 L255.00 199.40 L255.50 201.17 L256.00 202.78 L256.50 204.23 L257.00 205.51 L257.50 206.75 L258.00 207.79 L258.50 208.65 L259.00 209.37 L259.50 209.90 L260.00 210.35 L260.50 210.76 L261.00 211.08 L261.50 211.33" fill="none" stroke="#0a0a0a" stroke-width="1.60" stroke-linejoin="round"/>
</g>
<rect x="195.00" y="115.70" width="95.00" height="95.80" fill="none" stroke="#0a0a0a" stroke-width="1.70"/>
<text x="190.7" y="119.0" text-anchor="end" class="t7">400</text>
<clipPath id="cp_A12"><rect x="309.50" y="115.70" width="94.80" height="95.80"/></clipPath>
<g clip-path="url(#cp_A12)">
<path d="M310.00 211.50 L310.50 211.50 L311.00 211.50 L311.50 211.50 L312.00 211.50 L312.50 211.50 L313.00 211.50 L313.50 211.50 L314.00 211.50 L314.50 211.50 L315.00 211.50 L315.50 211.50 L316.00 211.50 L316.50 211.50 L317.00 211.50 L317.50 211.50 L318.00 211.50 L318.50 211.50 L319.00 211.50 L319.50 211.50 L320.00 211.50 L320.50 211.50 L321.00 211.50 L321.50 211.50 L322.00 211.50 L322.50 211.50 L323.00 211.50 L323.50 211.50 L324.00 211.50 L324.50 211.50 L325.00 211.50 L325.50 211.50 L326.00 211.50 L326.50 211.50 L327.00 211.50 L327.50 211.50 L328.00 211.50 L328.50 211.50 L329.00 211.50 L329.50 211.50 L330.00 211.50 L330.50 211.50 L331.00 210.72 L331.50 209.49 L332.00 207.92 L332.50 206.09 L333.00 203.86 L333.50 201.32 L334.00 198.50 L334.50 195.81 L335.00 192.96 L335.50 189.93 L336.00 186.71 L336.50 183.33 L337.00 179.78 L337.50 175.75 L338.00 171.57 L338.50 167.24 L339.00 162.94 L339.50 158.51 L340.00 153.93 L340.50 148.98 L341.00 143.89 L341.50 138.68 L342.00 133.71 L342.50 128.62 L343.00 123.41 L343.50 122.01 L344.00 122.23 L344.50 127.20 L345.00 132.02 L345.50 136.67 L346.00 141.14 L346.50 145.94 L347.00 150.57 L347.50 155.03 L348.00 158.96 L348.50 162.72 L349.00 166.32 L349.50 170.05 L350.00 173.61 L350.50 177.02 L351.00 179.97 L351.50 182.77 L352.00 185.41 L352.50 187.78 L353.00 190.01 L353.50 192.08 L354.00 194.39 L354.50 196.56 L355.00 198.58 L355.50 200.19 L356.00 201.69 L356.50 203.09 L357.00 204.45 L357.50 205.67 L358.00 206.76 L358.50 207.75 L359.00 208.61 L359.50 209.34 L360.00 209.94 L360.50 210.43 L361.00 210.83 L361.50 211.12 L362.00 211.32 L362.50 211.44 L363.00 211.50 L363.50 211.50 L364.00 211.50 L364.50 211.50 L365.00 211.50 L365.50 211.50 L366.00 211.50 L366.50 211.50 L367.00 211.50 L367.50 211.50 L368.00 211.50 L368.50 211.50 L369.00 211.50 L369.50 211.50 L370.00 211.50 L370.50 211.50 L371.00 211.50 L371.50 211.50 L372.00 211.50 L372.50 211.50 L373.00 211.50 L373.50 211.50 L374.00 211.50 L374.50 211.50 L375.00 211.50 L375.50 211.50 L376.00 211.50 L376.50 211.50 L377.00 211.50 L377.50 211.50 L378.00 211.50 L378.50 211.50 L379.00 211.50 L379.50 211.50 L380.00 211.50 L380.50 211.50 L381.00 211.50 L381.50 211.50 L382.00 211.50 L382.50 211.50 L383.00 211.50 L383.50 211.50 L384.00 211.50 L384.50 211.50 L385.00 211.50 L385.50 211.50 L386.00 211.50 L386.50 211.50 L387.00 211.50 L387.50 211.50 L388.00 211.50 L388.50 211.50 L389.00 211.50 L389.50 211.50 L390.00 211.50 L390.50 211.50 L391.00 211.50 L391.50 211.50 L392.00 211.50 L392.50 211.50 L393.00 211.50 L393.50 211.50 L394.00 211.50 L394.50 211.50 L395.00 211.50 L395.50 211.50 L396.00 211.50 L396.50 211.50 L397.00 211.50 L397.50 211.50 L398.00 211.50 L398.50 211.50 L399.00 211.50 L399.50 211.50 L400.00 211.50 L400.50 211.50 L401.00 211.50 L401.50 211.50 L402.00 211.50 L402.50 211.50 L403.00 211.50 L403.50 211.50 L404.00 211.50 L404.50 211.50 L405.00 211.50 L405.00 211.50 L310.00 211.50 Z" fill="#9c9c9c"/>
<path d="M320.50 210.40 L321.00 209.30 L321.50 207.62 L322.00 205.26 L322.50 202.16 L323.00 198.30 L323.50 193.69 L324.00 188.40 L324.50 182.54 L325.00 176.24 L325.50 169.68 L326.00 163.04 L326.50 156.53 L327.00 150.37 L327.50 144.75 L328.00 139.86 L328.50 135.88 L329.00 132.92 L329.50 131.11 L330.00 130.50 L330.50 130.99 L331.00 132.45 L331.50 134.84 L332.00 138.12 L332.50 142.20 L333.00 147.01 L333.50 152.43 L334.00 158.33 L334.50 164.57 L335.00 171.00 L335.50 177.46 L336.00 183.78 L336.50 189.78 L337.00 195.31 L337.50 200.20 L338.00 204.31 L338.50 207.52 L339.00 209.77" fill="none" stroke="#0a0a0a" stroke-width="1.35" stroke-dasharray="3.6 2.5"/>
<path d="M330.50 211.29 L331.00 210.90 L331.50 210.27 L332.00 209.55 L332.50 208.76 L333.00 207.84 L333.50 206.76 L334.00 205.52 L334.50 203.84 L335.00 201.84 L335.50 199.51 L336.00 196.57 L336.50 192.86 L337.00 188.66 L337.50 183.99 L338.00 178.88 L338.50 172.89 L339.00 166.64 L339.50 160.24 L340.00 153.86 L340.50 148.46 L341.00 143.45 L341.50 139.00 L342.00 135.32 L342.50 132.07 L343.00 129.86 L343.50 128.77 L344.00 128.82 L344.50 130.11 L345.00 132.38 L345.50 135.53 L346.00 139.41 L346.50 144.20 L347.00 149.40 L347.50 154.86 L348.00 160.40 L348.50 165.72 L349.00 170.87 L349.50 175.75 L350.00 180.29 L350.50 184.75 L351.00 188.81 L351.50 192.47 L352.00 195.75 L352.50 198.31 L353.00 200.38 L353.50 202.10 L354.00 203.58 L354.50 204.48 L355.00 205.32 L355.50 206.11 L356.00 206.85 L356.50 207.73 L357.00 208.48 L357.50 209.13 L358.00 209.68 L358.50 210.13 L359.00 210.57 L359.50 210.89 L360.00 211.17" fill="none" stroke="#0a0a0a" stroke-width="1.60" stroke-linejoin="round"/>
</g>
<rect x="309.50" y="115.70" width="94.80" height="95.80" fill="none" stroke="#0a0a0a" stroke-width="1.70"/>
<text x="306.4" y="119.0" text-anchor="end" class="t7">400</text>
<text x="87.7" y="220.9" text-anchor="middle" class="t7">0</text>
<rect x="87.20" y="211.50" width="1.0" height="2.2" fill="#0a0a0a"/>
<text x="98.9" y="220.9" text-anchor="middle" class="t7">10<tspan dy="-2.5" font-size="4.6">2</tspan></text>
<rect x="97.20" y="211.50" width="1.0" height="2.2" fill="#0a0a0a"/>
<text x="121.1" y="220.9" text-anchor="middle" class="t7">10<tspan dy="-2.5" font-size="4.6">3</tspan></text>
<rect x="119.40" y="211.50" width="1.0" height="2.2" fill="#0a0a0a"/>
<text x="143.9" y="220.9" text-anchor="middle" class="t7">10<tspan dy="-2.5" font-size="4.6">4</tspan></text>
<rect x="142.20" y="211.50" width="1.0" height="2.2" fill="#0a0a0a"/>
<text x="165.1" y="220.9" text-anchor="middle" class="t7">10<tspan dy="-2.5" font-size="4.6">5</tspan></text>
<rect x="163.40" y="211.50" width="1.0" height="2.2" fill="#0a0a0a"/>
<text x="204.7" y="220.9" text-anchor="middle" class="t7">0</text>
<rect x="204.20" y="211.50" width="1.0" height="2.2" fill="#0a0a0a"/>
<text x="215.9" y="220.9" text-anchor="middle" class="t7">10<tspan dy="-2.5" font-size="4.6">2</tspan></text>
<rect x="214.20" y="211.50" width="1.0" height="2.2" fill="#0a0a0a"/>
<text x="238.1" y="220.9" text-anchor="middle" class="t7">10<tspan dy="-2.5" font-size="4.6">3</tspan></text>
<rect x="236.40" y="211.50" width="1.0" height="2.2" fill="#0a0a0a"/>
<text x="260.9" y="220.9" text-anchor="middle" class="t7">10<tspan dy="-2.5" font-size="4.6">4</tspan></text>
<rect x="259.20" y="211.50" width="1.0" height="2.2" fill="#0a0a0a"/>
<text x="282.1" y="220.9" text-anchor="middle" class="t7">10<tspan dy="-2.5" font-size="4.6">5</tspan></text>
<rect x="280.40" y="211.50" width="1.0" height="2.2" fill="#0a0a0a"/>
<text x="319.7" y="220.9" text-anchor="middle" class="t7">0</text>
<rect x="319.20" y="211.50" width="1.0" height="2.2" fill="#0a0a0a"/>
<text x="330.9" y="220.9" text-anchor="middle" class="t7">10<tspan dy="-2.5" font-size="4.6">2</tspan></text>
<rect x="329.20" y="211.50" width="1.0" height="2.2" fill="#0a0a0a"/>
<text x="353.1" y="220.9" text-anchor="middle" class="t7">10<tspan dy="-2.5" font-size="4.6">3</tspan></text>
<rect x="351.40" y="211.50" width="1.0" height="2.2" fill="#0a0a0a"/>
<text x="375.9" y="220.9" text-anchor="middle" class="t7">10<tspan dy="-2.5" font-size="4.6">4</tspan></text>
<rect x="374.20" y="211.50" width="1.0" height="2.2" fill="#0a0a0a"/>
<text x="397.1" y="220.9" text-anchor="middle" class="t7">10<tspan dy="-2.5" font-size="4.6">5</tspan></text>
<rect x="395.40" y="211.50" width="1.0" height="2.2" fill="#0a0a0a"/>
<rect x="77.2" y="230.50" width="316" height="3.4" fill="#0a0a0a"/>
<path d="M404.8 232.20 L391.4 228.00 L391.4 236.40 Z" fill="#0a0a0a"/>
<text x="237.6" y="251.4" text-anchor="middle" class="t14">fluorescence intensity</text>
<path d="M424 97.75 H464" stroke="#0a0a0a" stroke-width="3.3" stroke-dasharray="9.2 6.1" fill="none"/>
<rect x="451.4" y="108.75" width="11.8" height="11.6" fill="#999999"/>
<rect x="424" y="131.45" width="39.6" height="3.5" fill="#0a0a0a"/>
<text x="470.8" y="100.2" class="t105">unstained</text>
<text x="470.8" y="118.2" class="t105">w/o</text>
<text x="470.8" y="136.1" class="t105">stimulated</text>
<text x="0.9" y="283.5" class="letter">B</text>
<rect x="18.90" y="293.00" width="3" height="189.60" fill="#0a0a0a"/>
<path d="M20.40 284.00 L24.40 295.60 L16.40 295.60 Z" fill="#0a0a0a"/>
<text transform="translate(12.5 385.0) rotate(-90)" text-anchor="middle" class="t14r">cell count</text>
<text x="126.5" y="278.7" text-anchor="middle" class="t10">TNF<tspan font-family='"Liberation Serif", "DejaVu Serif", serif' font-size="11.6">α</tspan></text>
<text x="243.3" y="278.7" text-anchor="middle" class="t10">CXCL1</text>
<text x="357.8" y="278.7" text-anchor="middle" class="t10">MnCl<tspan dy="3.6" font-size="6.2">2</tspan></text>
<clipPath id="cp_B00"><rect x="78.00" y="285.00" width="95.00" height="95.20"/></clipPath>
<g clip-path="url(#cp_B00)">
<path d="M78.00 380.20 L78.50 380.20 L79.00 380.20 L79.50 380.20 L80.00 380.20 L80.50 380.20 L81.00 380.20 L81.50 380.20 L82.00 380.20 L82.50 380.20 L83.00 380.20 L83.50 380.20 L84.00 380.20 L84.50 380.20 L85.00 380.20 L85.50 380.20 L86.00 380.20 L86.50 380.20 L87.00 380.20 L87.50 380.20 L88.00 380.20 L88.50 380.20 L89.00 380.20 L89.50 380.20 L90.00 380.20 L90.50 380.20 L91.00 380.20 L91.50 380.20 L92.00 380.20 L92.50 380.20 L93.00 380.20 L93.50 380.20 L94.00 380.20 L94.50 380.20 L95.00 380.20 L95.50 380.20 L96.00 380.20 L96.50 380.20 L97.00 380.20 L97.50 380.20 L98.00 380.20 L98.50 380.20 L99.00 380.20 L99.50 380.20 L100.00 380.20 L100.50 380.20 L101.00 380.20 L101.50 380.20 L102.00 380.20 L102.50 380.20 L103.00 380.20 L103.50 380.20 L104.00 380.20 L104.50 379.22 L105.00 377.81 L105.50 376.02 L106.00 373.91 L106.50 371.52 L107.00 368.50 L107.50 365.09 L108.00 361.45 L108.50 358.48 L109.00 355.28 L109.50 351.87 L110.00 347.48 L110.50 342.90 L111.00 338.11 L111.50 333.16 L112.00 328.02 L112.50 322.70 L113.00 317.44 L113.50 312.01 L114.00 306.42 L114.50 300.63 L115.00 300.07 L115.50 300.61 L116.00 305.46 L116.50 310.12 L117.00 314.58 L117.50 319.27 L118.00 323.78 L118.50 328.09 L119.00 331.55 L119.50 334.82 L120.00 337.92 L120.50 341.16 L121.00 344.23 L121.50 347.14 L122.00 350.46 L122.50 353.61 L123.00 356.62 L123.50 358.77 L124.00 360.77 L124.50 362.62 L125.00 364.51 L125.50 366.26 L126.00 367.85 L126.50 369.33 L127.00 370.69 L127.50 371.93 L128.00 373.03 L128.50 374.03 L129.00 374.95 L129.50 375.86 L130.00 376.65 L130.50 377.35 L131.00 377.87 L131.50 378.34 L132.00 378.74 L132.50 379.10 L133.00 379.43 L133.50 379.67 L134.00 379.85 L134.50 379.99 L135.00 380.09 L135.50 380.15 L136.00 380.18 L136.50 380.20 L137.00 380.20 L137.50 380.20 L138.00 380.20 L138.50 380.20 L139.00 380.20 L139.50 380.20 L140.00 380.20 L140.50 380.20 L141.00 380.20 L141.50 380.20 L142.00 380.20 L142.50 380.20 L143.00 380.20 L143.50 380.20 L144.00 380.20 L144.50 380.20 L145.00 380.20 L145.50 380.20 L146.00 380.20 L146.50 380.20 L147.00 380.20 L147.50 380.20 L148.00 380.20 L148.50 380.20 L149.00 380.20 L149.50 380.20 L150.00 380.20 L150.50 380.20 L151.00 380.20 L151.50 380.20 L152.00 380.20 L152.50 380.20 L153.00 380.20 L153.50 380.20 L154.00 380.20 L154.50 380.20 L155.00 380.20 L155.50 380.20 L156.00 380.20 L156.50 380.20 L157.00 380.20 L157.50 380.20 L158.00 380.20 L158.50 380.20 L159.00 380.20 L159.50 380.20 L160.00 380.20 L160.50 380.20 L161.00 380.20 L161.50 380.20 L162.00 380.20 L162.50 380.20 L163.00 380.20 L163.50 380.20 L164.00 380.20 L164.50 380.20 L165.00 380.20 L165.50 380.20 L166.00 380.20 L166.50 380.20 L167.00 380.20 L167.50 380.20 L168.00 380.20 L168.50 380.20 L169.00 380.20 L169.50 380.20 L170.00 380.20 L170.50 380.20 L171.00 380.20 L171.50 380.20 L172.00 380.20 L172.50 380.20 L173.00 380.20 L173.00 380.20 L78.00 380.20 Z" fill="#868686"/>
<path d="M92.00 379.35 L92.50 378.62 L93.00 377.59 L93.50 376.23 L94.00 374.56 L94.50 372.57 L95.00 370.30 L95.50 367.77 L96.00 365.04 L96.50 362.17 L97.00 359.20 L97.50 356.21 L98.00 353.26 L98.50 350.42 L99.00 347.76 L99.50 345.32 L100.00 343.18 L100.50 341.37 L101.00 339.94 L101.50 338.93 L102.00 338.34 L102.50 338.21 L103.00 338.66 L103.50 339.74 L104.00 341.43 L104.50 343.67 L105.00 346.42 L105.50 349.60 L106.00 353.12 L106.50 356.88 L107.00 360.76 L107.50 364.64 L108.00 368.38 L108.50 371.85 L109.00 374.88 L109.50 377.35 L110.00 379.10" fill="none" stroke="#0a0a0a" stroke-width="1.35" stroke-dasharray="3.6 2.5"/>
<path d="M110.00 379.90 L110.50 379.59 L111.00 379.19 L111.50 378.54 L112.00 377.66 L112.50 376.47 L113.00 374.95 L113.50 373.11 L114.00 370.95 L114.50 368.12 L115.00 364.72 L115.50 360.96 L116.00 356.98 L116.50 353.50 L117.00 349.93 L117.50 346.36 L118.00 342.87 L118.50 339.31 L119.00 336.00 L119.50 333.03 L120.00 330.48 L120.50 327.89 L121.00 325.83 L121.50 324.34 L122.00 323.43 L122.50 324.00 L123.00 325.24 L123.50 327.13 L124.00 329.61 L124.50 332.24 L125.00 335.32 L125.50 338.78 L126.00 342.49 L126.50 346.41 L127.00 350.38 L127.50 354.29 L128.00 358.04 L128.50 361.11 L129.00 363.84 L129.50 366.20 L130.00 368.29 L130.50 370.61 L131.00 372.37 L131.50 373.90 L132.00 374.99 L132.50 375.43 L133.00 375.67 L133.50 375.77 L134.00 375.83 L134.50 375.91 L135.00 375.99 L135.50 376.07 L136.00 376.16 L136.50 376.39 L137.00 376.61 L137.50 376.83 L138.00 377.03 L138.50 377.21 L139.00 377.38 L139.50 377.55 L140.00 377.71 L140.50 377.84 L141.00 377.96 L141.50 378.08 L142.00 378.19 L142.50 378.22 L143.00 378.25 L143.50 378.28 L144.00 378.31 L144.50 378.45 L145.00 378.58 L145.50 378.70 L146.00 378.82 L146.50 378.87 L147.00 378.92 L147.50 378.97 L148.00 379.01 L148.50 379.05 L149.00 379.08 L149.50 379.11 L150.00 379.22 L150.50 379.28 L151.00 379.33 L151.50 379.38 L152.00 379.42 L152.50 379.47 L153.00 379.51 L153.50 379.55 L154.00 379.59 L154.50 379.63 L155.00 379.67 L155.50 379.70 L156.00 379.73 L156.50 379.77 L157.00 379.80 L157.50 379.83 L158.00 379.85 L158.50 379.88 L159.00 379.90 L159.50 379.93 L160.00 379.95 L160.50 379.97 L161.00 379.99 L161.50 380.01 L162.00 380.03 L162.50 380.05 L163.00 380.07 L163.50 380.08 L164.00 380.10 L164.50 380.11 L165.00 380.13 L165.50 380.14 L166.00 380.15 L166.50 380.16 L167.00 380.18 L167.50 380.19 L168.00 380.20 L168.50 380.20 L169.00 380.20 L169.50 380.20 L170.00 380.20 L170.50 380.20 L171.00 380.20 L171.50 380.20 L172.00 380.20 L172.50 380.20 L173.00 380.20" fill="none" stroke="#0a0a0a" stroke-width="1.60" stroke-linejoin="round"/>
</g>
<rect x="78.00" y="285.00" width="95.00" height="95.20" fill="none" stroke="#0a0a0a" stroke-width="1.70"/>
<text x="74.4" y="288.3" text-anchor="end" class="t7">400</text>
<clipPath id="cp_B01"><rect x="195.00" y="285.00" width="95.00" height="95.20"/></clipPath>
<g clip-path="url(#cp_B01)">
<path d="M195.00 380.20 L195.50 380.20 L196.00 380.20 L196.50 380.20 L197.00 380.20 L197.50 380.20 L198.00 380.20 L198.50 380.20 L199.00 380.20 L199.50 380.20 L200.00 380.20 L200.50 380.20 L201.00 380.20 L201.50 380.20 L202.00 380.20 L202.50 380.20 L203.00 380.20 L203.50 380.20 L204.00 380.20 L204.50 380.20 L205.00 380.20 L205.50 380.20 L206.00 380.20 L206.50 380.20 L207.00 380.20 L207.50 380.20 L208.00 380.20 L208.50 380.20 L209.00 380.20 L209.50 380.20 L210.00 380.20 L210.50 380.20 L211.00 380.20 L211.50 380.20 L212.00 380.20 L212.50 380.20 L213.00 380.20 L213.50 380.20 L214.00 380.20 L214.50 380.20 L215.00 380.20 L215.50 380.20 L216.00 380.20 L216.50 380.20 L217.00 380.20 L217.50 380.20 L218.00 380.20 L218.50 380.20 L219.00 380.20 L219.50 380.20 L220.00 380.20 L220.50 380.20 L221.00 380.20 L221.50 380.20 L222.00 380.20 L222.50 377.92 L223.00 375.87 L223.50 373.43 L224.00 370.56 L224.50 367.34 L225.00 363.87 L225.50 360.37 L226.00 356.67 L226.50 352.76 L227.00 348.85 L227.50 344.76 L228.00 340.50 L228.50 335.84 L229.00 331.02 L229.50 326.04 L230.00 321.02 L230.50 315.85 L231.00 310.55 L231.50 305.18 L232.00 300.25 L232.50 300.34 L233.00 301.98 L233.50 306.99 L234.00 311.82 L234.50 316.45 L235.00 320.89 L235.50 325.14 L236.00 329.07 L236.50 332.82 L237.00 336.40 L237.50 339.43 L238.00 342.29 L238.50 344.98 L239.00 348.05 L239.50 350.96 L240.00 353.71 L240.50 356.53 L241.00 359.20 L241.50 361.72 L242.00 363.27 L242.50 364.67 L243.00 365.97 L243.50 368.01 L244.00 369.83 L244.50 371.45 L245.00 372.53 L245.50 373.54 L246.00 374.48 L246.50 375.47 L247.00 376.35 L247.50 377.11 L248.00 377.77 L248.50 378.32 L249.00 378.79 L249.50 379.17 L250.00 379.45 L250.50 379.70 L251.00 379.89 L251.50 380.03 L252.00 380.12 L252.50 380.17 L253.00 380.20 L253.50 380.20 L254.00 380.20 L254.50 380.20 L255.00 380.20 L255.50 380.20 L256.00 380.20 L256.50 380.20 L257.00 380.20 L257.50 380.20 L258.00 380.20 L258.50 380.20 L259.00 380.20 L259.50 380.20 L260.00 380.20 L260.50 380.20 L261.00 380.20 L261.50 380.20 L262.00 380.20 L262.50 380.20 L263.00 380.20 L263.50 380.20 L264.00 380.20 L264.50 380.20 L265.00 380.20 L265.50 380.20 L266.00 380.20 L266.50 380.20 L267.00 380.20 L267.50 380.20 L268.00 380.20 L268.50 380.20 L269.00 380.20 L269.50 380.20 L270.00 380.20 L270.50 380.20 L271.00 380.20 L271.50 380.20 L272.00 380.20 L272.50 380.20 L273.00 380.20 L273.50 380.20 L274.00 380.20 L274.50 380.20 L275.00 380.20 L275.50 380.20 L276.00 380.20 L276.50 380.20 L277.00 380.20 L277.50 380.20 L278.00 380.20 L278.50 380.20 L279.00 380.20 L279.50 380.20 L280.00 380.20 L280.50 380.20 L281.00 380.20 L281.50 380.20 L282.00 380.20 L282.50 380.20 L283.00 380.20 L283.50 380.20 L284.00 380.20 L284.50 380.20 L285.00 380.20 L285.50 380.20 L286.00 380.20 L286.50 380.20 L287.00 380.20 L287.50 380.20 L288.00 380.20 L288.50 380.20 L289.00 380.20 L289.50 380.20 L290.00 380.20 L290.00 380.20 L195.00 380.20 Z" fill="#868686"/>
<path d="M209.50 379.07 L210.00 378.26 L210.50 377.15 L211.00 375.74 L211.50 374.02 L212.00 372.00 L212.50 369.70 L213.00 367.16 L213.50 364.43 L214.00 361.56 L214.50 358.61 L215.00 355.64 L215.50 352.72 L216.00 349.91 L216.50 347.29 L217.00 344.90 L217.50 342.81 L218.00 341.07 L218.50 339.72 L219.00 338.78 L219.50 338.28 L220.00 338.25 L220.50 338.83 L221.00 340.03 L221.50 341.83 L222.00 344.19 L222.50 347.03 L223.00 350.28 L223.50 353.86 L224.00 357.65 L224.50 361.54 L225.00 365.41 L225.50 369.10 L226.00 372.49 L226.50 375.43 L227.00 377.76 L227.50 379.36" fill="none" stroke="#0a0a0a" stroke-width="1.35" stroke-dasharray="3.6 2.5"/>
<path d="M229.50 380.02 L230.00 379.71 L230.50 379.23 L231.00 378.52 L231.50 377.40 L232.00 375.88 L232.50 373.92 L233.00 371.49 L233.50 368.61 L234.00 365.24 L234.50 361.45 L235.00 357.39 L235.50 353.02 L236.00 348.52 L236.50 343.97 L237.00 339.46 L237.50 335.91 L238.00 332.57 L238.50 329.53 L239.00 326.86 L239.50 323.72 L240.00 321.07 L240.50 318.98 L241.00 317.47 L241.50 317.15 L242.00 317.48 L242.50 318.50 L243.00 320.20 L243.50 321.96 L244.00 324.26 L244.50 327.03 L245.00 330.16 L245.50 333.78 L246.00 337.56 L246.50 341.39 L247.00 345.17 L247.50 349.07 L248.00 352.77 L248.50 356.20 L249.00 359.31 L249.50 362.44 L250.00 365.23 L250.50 367.64 L251.00 369.65 L251.50 370.85 L252.00 371.91 L252.50 372.80 L253.00 373.55 L253.50 374.46 L254.00 375.19 L254.50 375.76 L255.00 376.22 L255.50 376.43 L256.00 376.59 L256.50 376.72 L257.00 376.83 L257.50 377.06 L258.00 377.27 L258.50 377.46 L259.00 377.63 L259.50 377.68 L260.00 377.72 L260.50 377.77 L261.00 377.82 L261.50 377.91 L262.00 378.00 L262.50 378.09 L263.00 378.18 L263.50 378.29 L264.00 378.40 L264.50 378.50 L265.00 378.59 L265.50 378.67 L266.00 378.75 L266.50 378.82 L267.00 378.89 L267.50 378.96 L268.00 379.02 L268.50 379.08 L269.00 379.22 L269.50 379.27 L270.00 379.32 L270.50 379.37 L271.00 379.41 L271.50 379.46 L272.00 379.50 L272.50 379.54 L273.00 379.58 L273.50 379.62 L274.00 379.65 L274.50 379.69 L275.00 379.72 L275.50 379.75 L276.00 379.78 L276.50 379.81 L277.00 379.84 L277.50 379.86 L278.00 379.89 L278.50 379.91 L279.00 379.93 L279.50 379.96 L280.00 379.98 L280.50 379.99 L281.00 380.01 L281.50 380.03 L282.00 380.05 L282.50 380.06 L283.00 380.08 L283.50 380.09 L284.00 380.11 L284.50 380.12 L285.00 380.13 L285.50 380.15 L286.00 380.16 L286.50 380.17 L287.00 380.18 L287.50 380.19 L288.00 380.20 L288.50 380.20 L289.00 380.20 L289.50 380.20 L290.00 380.20" fill="none" stroke="#0a0a0a" stroke-width="1.60" stroke-linejoin="round"/>
</g>
<rect x="195.00" y="285.00" width="95.00" height="95.20" fill="none" stroke="#0a0a0a" stroke-width="1.70"/>
<text x="190.7" y="288.3" text-anchor="end" class="t7">400</text>
<clipPath id="cp_B02"><rect x="310.00" y="285.00" width="94.30" height="95.20"/></clipPath>
<g clip-path="url(#cp_B02)">
<path d="M310.00 380.20 L310.50 380.20 L311.00 380.20 L311.50 380.20 L312.00 380.20 L312.50 380.20 L313.00 380.20 L313.50 380.20 L314.00 380.20 L314.50 380.20 L315.00 380.20 L315.50 380.20 L316.00 380.20 L316.50 380.20 L317.00 380.20 L317.50 380.20 L318.00 380.20 L318.50 380.20 L319.00 380.20 L319.50 380.20 L320.00 380.20 L320.50 380.20 L321.00 380.20 L321.50 380.20 L322.00 380.20 L322.50 380.20 L323.00 380.20 L323.50 380.20 L324.00 380.20 L324.50 380.20 L325.00 380.20 L325.50 380.20 L326.00 380.20 L326.50 380.20 L327.00 380.20 L327.50 380.20 L328.00 380.20 L328.50 380.20 L329.00 380.20 L329.50 380.20 L330.00 380.20 L330.50 380.20 L331.00 380.20 L331.50 380.20 L332.00 380.20 L332.50 380.20 L333.00 380.20 L333.50 380.20 L334.00 380.20 L334.50 380.20 L335.00 380.20 L335.50 380.20 L336.00 380.20 L336.50 379.23 L337.00 377.78 L337.50 375.88 L338.00 373.64 L338.50 371.09 L339.00 368.03 L339.50 364.58 L340.00 360.83 L340.50 356.96 L341.00 352.87 L341.50 348.55 L342.00 344.31 L342.50 339.86 L343.00 335.21 L343.50 329.97 L344.00 324.54 L344.50 318.94 L345.00 313.17 L345.50 307.24 L346.00 301.14 L346.50 299.89 L347.00 300.44 L347.50 305.77 L348.00 310.71 L348.50 315.41 L349.00 319.87 L349.50 324.36 L350.00 328.62 L350.50 332.67 L351.00 336.04 L351.50 339.21 L352.00 342.19 L352.50 345.49 L353.00 348.60 L353.50 351.53 L354.00 354.12 L354.50 356.54 L355.00 358.80 L355.50 361.04 L356.00 363.13 L356.50 365.08 L357.00 366.46 L357.50 367.73 L358.00 368.94 L358.50 370.31 L359.00 371.56 L359.50 372.70 L360.00 373.81 L360.50 374.80 L361.00 375.67 L361.50 376.32 L362.00 376.91 L362.50 377.44 L363.00 378.00 L363.50 378.47 L364.00 378.87 L364.50 379.16 L365.00 379.38 L365.50 379.60 L366.00 379.77 L366.50 379.90 L367.00 380.00 L367.50 380.08 L368.00 380.13 L368.50 380.16 L369.00 380.19 L369.50 380.20 L370.00 380.20 L370.50 380.20 L371.00 380.20 L371.50 380.20 L372.00 380.20 L372.50 380.20 L373.00 380.20 L373.50 380.20 L374.00 380.20 L374.50 380.20 L375.00 380.20 L375.50 380.20 L376.00 380.20 L376.50 380.20 L377.00 380.20 L377.50 380.20 L378.00 380.20 L378.50 380.20 L379.00 380.20 L379.50 380.20 L380.00 380.20 L380.50 380.20 L381.00 380.20 L381.50 380.20 L382.00 380.20 L382.50 380.20 L383.00 380.20 L383.50 380.20 L384.00 380.20 L384.50 380.20 L385.00 380.20 L385.50 380.20 L386.00 380.20 L386.50 380.20 L387.00 380.20 L387.50 380.20 L388.00 380.20 L388.50 380.20 L389.00 380.20 L389.50 380.20 L390.00 380.20 L390.50 380.20 L391.00 380.20 L391.50 380.20 L392.00 380.20 L392.50 380.20 L393.00 380.20 L393.50 380.20 L394.00 380.20 L394.50 380.20 L395.00 380.20 L395.50 380.20 L396.00 380.20 L396.50 380.20 L397.00 380.20 L397.50 380.20 L398.00 380.20 L398.50 380.20 L399.00 380.20 L399.50 380.20 L400.00 380.20 L400.50 380.20 L401.00 380.20 L401.50 380.20 L402.00 380.20 L402.50 380.20 L403.00 380.20 L403.50 380.20 L404.00 380.20 L404.50 380.20 L404.50 380.20 L310.00 380.20 Z" fill="#868686"/>
<path d="M324.00 378.94 L324.50 378.08 L325.00 376.93 L325.50 375.47 L326.00 373.70 L326.50 371.64 L327.00 369.32 L327.50 366.76 L328.00 364.02 L328.50 361.16 L329.00 358.22 L329.50 355.29 L330.00 352.41 L330.50 349.66 L331.00 347.11 L331.50 344.80 L332.00 342.80 L332.50 341.14 L333.00 339.88 L333.50 339.04 L334.00 338.64 L334.50 338.74 L335.00 339.62 L335.50 341.26 L336.00 343.61 L336.50 346.55 L337.00 349.99 L337.50 353.79 L338.00 357.78 L338.50 361.82 L339.00 365.74 L339.50 369.38 L340.00 372.61 L340.50 375.31 L341.00 377.41 L341.50 378.88" fill="none" stroke="#0a0a0a" stroke-width="1.35" stroke-dasharray="3.6 2.5"/>
<path d="M335.50 379.89 L336.00 379.71 L336.50 379.46 L337.00 379.03 L337.50 378.54 L338.00 377.90 L338.50 376.99 L339.00 375.80 L339.50 374.30 L340.00 372.45 L340.50 370.27 L341.00 367.71 L341.50 364.79 L342.00 361.52 L342.50 357.90 L343.00 354.04 L343.50 350.01 L344.00 345.95 L344.50 341.61 L345.00 337.50 L345.50 333.77 L346.00 330.57 L346.50 328.91 L347.00 328.00 L347.50 327.89 L348.00 328.59 L348.50 329.58 L349.00 331.29 L349.50 333.62 L350.00 336.49 L350.50 338.95 L351.00 341.71 L351.50 344.63 L352.00 347.60 L352.50 351.86 L353.00 355.96 L353.50 359.81 L354.00 363.37 L354.50 365.97 L355.00 368.19 L355.50 370.23 L356.00 371.97 L356.50 373.36 L357.00 374.51 L357.50 375.45 L358.00 376.20 L358.50 376.73 L359.00 377.16 L359.50 377.49 L360.00 377.76 L360.50 378.09 L361.00 378.35 L361.50 378.57 L362.00 378.75 L362.50 378.90 L363.00 379.03 L363.50 379.14 L364.00 379.24 L364.50 379.30 L365.00 379.28 L365.50 379.35 L366.00 379.42 L366.50 379.48 L367.00 379.54 L367.50 379.60 L368.00 379.65 L368.50 379.70 L369.00 379.74 L369.50 379.79 L370.00 379.83 L370.50 379.87 L371.00 379.90 L371.50 379.93 L372.00 379.96 L372.50 379.99 L373.00 380.02 L373.50 380.04 L374.00 380.06 L374.50 380.08 L375.00 380.10 L375.50 380.12 L376.00 380.14 L376.50 380.15 L377.00 380.16 L377.50 380.18 L378.00 380.19 L378.50 380.20 L379.00 380.20 L379.50 380.20 L380.00 380.20 L380.50 380.20 L381.00 380.20 L381.50 380.20 L382.00 380.20 L382.50 380.20 L383.00 380.20 L383.50 380.20 L384.00 380.20 L384.50 380.20 L385.00 380.20 L385.50 380.20 L386.00 380.20 L386.50 380.20 L387.00 380.20 L387.50 380.20 L388.00 380.20 L388.50 380.20 L389.00 380.20 L389.50 380.20 L390.00 380.20 L390.50 380.20 L391.00 380.20 L391.50 380.20 L392.00 380.20 L392.50 380.20 L393.00 380.20 L393.50 380.20 L394.00 380.20 L394.50 380.20 L395.00 380.20 L395.50 380.20 L396.00 380.20 L396.50 380.20 L397.00 380.20 L397.50 380.20 L398.00 380.20 L398.50 380.20 L399.00 380.20 L399.50 380.20 L400.00 380.20 L400.50 380.20 L401.00 380.20 L401.50 380.20 L402.00 380.20 L402.50 380.20 L403.00 380.20 L403.50 380.20 L404.00 380.20 L404.50 380.20" fill="none" stroke="#0a0a0a" stroke-width="1.60" stroke-linejoin="round"/>
</g>
<rect x="310.00" y="285.00" width="94.30" height="95.20" fill="none" stroke="#0a0a0a" stroke-width="1.70"/>
<text x="306.4" y="288.3" text-anchor="end" class="t7">400</text>
<clipPath id="cp_B10"><rect x="77.00" y="385.25" width="95.20" height="95.75"/></clipPath>
<g clip-path="url(#cp_B10)">
<path d="M78.00 481.00 L78.50 481.00 L79.00 481.00 L79.50 481.00 L80.00 481.00 L80.50 481.00 L81.00 481.00 L81.50 481.00 L82.00 481.00 L82.50 481.00 L83.00 481.00 L83.50 481.00 L84.00 481.00 L84.50 481.00 L85.00 481.00 L85.50 481.00 L86.00 481.00 L86.50 481.00 L87.00 481.00 L87.50 481.00 L88.00 481.00 L88.50 481.00 L89.00 481.00 L89.50 481.00 L90.00 481.00 L90.50 481.00 L91.00 481.00 L91.50 481.00 L92.00 481.00 L92.50 481.00 L93.00 481.00 L93.50 481.00 L94.00 481.00 L94.50 481.00 L95.00 481.00 L95.50 481.00 L96.00 481.00 L96.50 481.00 L97.00 481.00 L97.50 481.00 L98.00 481.00 L98.50 481.00 L99.00 481.00 L99.50 481.00 L100.00 481.00 L100.50 481.00 L101.00 481.00 L101.50 481.00 L102.00 481.00 L102.50 481.00 L103.00 481.00 L103.50 481.00 L104.00 480.26 L104.50 478.80 L105.00 476.86 L105.50 474.77 L106.00 472.50 L106.50 470.12 L107.00 467.34 L107.50 464.25 L108.00 460.96 L108.50 456.87 L109.00 452.60 L109.50 448.16 L110.00 444.49 L110.50 440.67 L111.00 436.69 L111.50 432.10 L112.00 427.36 L112.50 422.48 L113.00 417.37 L113.50 412.13 L114.00 411.51 L114.50 411.71 L115.00 416.07 L115.50 420.19 L116.00 424.69 L116.50 428.97 L117.00 433.04 L117.50 436.82 L118.00 440.40 L118.50 443.79 L119.00 446.64 L119.50 449.30 L120.00 451.81 L120.50 454.32 L121.00 456.68 L121.50 458.89 L122.00 461.06 L122.50 463.09 L123.00 464.99 L123.50 466.12 L124.00 467.13 L124.50 468.10 L125.00 469.55 L125.50 470.87 L126.00 472.07 L126.50 473.31 L127.00 474.41 L127.50 475.38 L128.00 476.08 L128.50 476.72 L129.00 477.30 L129.50 477.73 L130.00 478.14 L130.50 478.51 L131.00 478.94 L131.50 479.32 L132.00 479.64 L132.50 479.91 L133.00 480.14 L133.50 480.32 L134.00 480.47 L134.50 480.60 L135.00 480.70 L135.50 480.79 L136.00 480.85 L136.50 480.90 L137.00 480.94 L137.50 480.96 L138.00 480.98 L138.50 480.99 L139.00 481.00 L139.50 481.00 L140.00 481.00 L140.50 481.00 L141.00 481.00 L141.50 481.00 L142.00 481.00 L142.50 481.00 L143.00 481.00 L143.50 481.00 L144.00 481.00 L144.50 481.00 L145.00 481.00 L145.50 481.00 L146.00 481.00 L146.50 481.00 L147.00 481.00 L147.50 481.00 L148.00 481.00 L148.50 481.00 L149.00 481.00 L149.50 481.00 L150.00 481.00 L150.50 481.00 L151.00 481.00 L151.50 481.00 L152.00 481.00 L152.50 481.00 L153.00 481.00 L153.50 481.00 L154.00 481.00 L154.50 481.00 L155.00 481.00 L155.50 481.00 L156.00 481.00 L156.50 481.00 L157.00 481.00 L157.50 481.00 L158.00 481.00 L158.50 481.00 L159.00 481.00 L159.50 481.00 L160.00 481.00 L160.50 481.00 L161.00 481.00 L161.50 481.00 L162.00 481.00 L162.50 481.00 L163.00 481.00 L163.50 481.00 L164.00 481.00 L164.50 481.00 L165.00 481.00 L165.50 481.00 L166.00 481.00 L166.50 481.00 L167.00 481.00 L167.50 481.00 L168.00 481.00 L168.50 481.00 L169.00 481.00 L169.50 481.00 L170.00 481.00 L170.50 481.00 L171.00 481.00 L171.50 481.00 L172.00 481.00 L172.50 481.00 L173.00 481.00 L173.00 481.00 L78.00 481.00 Z" fill="#868686"/>
<path d="M91.50 479.91 L92.00 479.12 L92.50 478.06 L93.00 476.69 L93.50 475.03 L94.00 473.07 L94.50 470.85 L95.00 468.40 L95.50 465.76 L96.00 462.98 L96.50 460.13 L97.00 457.25 L97.50 454.43 L98.00 451.72 L98.50 449.18 L99.00 446.88 L99.50 444.86 L100.00 443.18 L100.50 441.87 L101.00 440.96 L101.50 440.48 L102.00 440.46 L102.50 441.19 L103.00 442.69 L103.50 444.89 L104.00 447.69 L104.50 450.98 L105.00 454.60 L105.50 458.40 L106.00 462.22 L106.50 465.91 L107.00 469.34 L107.50 472.38 L108.00 474.97 L108.50 477.05 L109.00 478.63 L109.50 479.73" fill="none" stroke="#0a0a0a" stroke-width="1.35" stroke-dasharray="3.6 2.5"/>
<path d="M107.00 480.81 L107.50 480.64 L108.00 480.37 L108.50 479.95 L109.00 479.35 L109.50 478.52 L110.00 477.41 L110.50 475.98 L111.00 474.18 L111.50 471.96 L112.00 469.28 L112.50 466.23 L113.00 462.84 L113.50 459.03 L114.00 454.84 L114.50 450.82 L115.00 446.52 L115.50 442.03 L116.00 437.43 L116.50 432.17 L117.00 427.02 L117.50 422.09 L118.00 417.48 L118.50 413.07 L119.00 409.19 L119.50 405.94 L120.00 403.37 L120.50 402.07 L121.00 401.54 L121.50 401.82 L122.00 402.94 L122.50 404.51 L123.00 406.82 L123.50 409.77 L124.00 413.27 L124.50 418.11 L125.00 423.26 L125.50 428.60 L126.00 434.01 L126.50 438.54 L127.00 442.91 L127.50 447.03 L128.00 450.83 L128.50 454.15 L129.00 457.07 L129.50 459.56 L130.00 461.68 L130.50 463.89 L131.00 465.72 L131.50 467.22 L132.00 468.45 L132.50 469.95 L133.00 471.14 L133.50 472.09 L134.00 472.87 L134.50 472.95 L135.00 472.98 L135.50 472.99 L136.00 472.98 L136.50 473.38 L137.00 473.76 L137.50 474.12 L138.00 474.47 L138.50 474.71 L139.00 474.94 L139.50 475.17 L140.00 475.39 L140.50 475.39 L141.00 475.40 L141.50 475.41 L142.00 475.43 L142.50 475.83 L143.00 476.22 L143.50 476.59 L144.00 476.93 L144.50 476.86 L145.00 476.79 L145.50 476.74 L146.00 476.69 L146.50 476.99 L147.00 477.27 L147.50 477.54 L148.00 477.80 L148.50 477.91 L149.00 478.01 L149.50 478.12 L150.00 478.22 L150.50 478.35 L151.00 478.48 L151.50 478.61 L152.00 478.72 L152.50 478.78 L153.00 478.83 L153.50 478.89 L154.00 478.94 L154.50 478.98 L155.00 479.02 L155.50 479.07 L156.00 479.11 L156.50 479.26 L157.00 479.39 L157.50 479.52 L158.00 479.64 L158.50 479.68 L159.00 479.71 L159.50 479.75 L160.00 479.78 L160.50 479.85 L161.00 479.91 L161.50 479.97 L162.00 480.02 L162.50 480.07 L163.00 480.12 L163.50 480.17 L164.00 480.21 L164.50 480.26 L165.00 480.30 L165.50 480.34 L166.00 480.38 L166.50 480.42 L167.00 480.45 L167.50 480.49 L168.00 480.52 L168.50 480.55 L169.00 480.59 L169.50 480.62 L170.00 480.65 L170.50 480.67 L171.00 480.70 L171.50 480.73 L172.00 480.75 L172.50 480.78 L173.00 480.80" fill="none" stroke="#0a0a0a" stroke-width="1.60" stroke-linejoin="round"/>
</g>
<rect x="77.00" y="385.25" width="95.20" height="95.75" fill="none" stroke="#0a0a0a" stroke-width="1.70"/>
<text x="74.4" y="388.6" text-anchor="end" class="t7">150</text>
<clipPath id="cp_B11"><rect x="195.00" y="385.25" width="95.00" height="95.75"/></clipPath>
<g clip-path="url(#cp_B11)">
<path d="M195.00 481.00 L195.50 481.00 L196.00 481.00 L196.50 481.00 L197.00 481.00 L197.50 481.00 L198.00 481.00 L198.50 481.00 L199.00 481.00 L199.50 481.00 L200.00 481.00 L200.50 481.00 L201.00 481.00 L201.50 481.00 L202.00 481.00 L202.50 481.00 L203.00 481.00 L203.50 481.00 L204.00 481.00 L204.50 481.00 L205.00 481.00 L205.50 481.00 L206.00 481.00 L206.50 481.00 L207.00 481.00 L207.50 481.00 L208.00 481.00 L208.50 481.00 L209.00 481.00 L209.50 481.00 L210.00 481.00 L210.50 481.00 L211.00 481.00 L211.50 481.00 L212.00 481.00 L212.50 481.00 L213.00 481.00 L213.50 481.00 L214.00 481.00 L214.50 481.00 L215.00 481.00 L215.50 481.00 L216.00 481.00 L216.50 481.00 L217.00 481.00 L217.50 481.00 L218.00 481.00 L218.50 481.00 L219.00 481.00 L219.50 481.00 L220.00 481.00 L220.50 481.00 L221.00 481.00 L221.50 481.00 L222.00 480.19 L222.50 479.07 L223.00 477.60 L223.50 475.80 L224.00 473.82 L224.50 471.63 L225.00 469.24 L225.50 466.58 L226.00 463.75 L226.50 460.72 L227.00 457.73 L227.50 454.54 L228.00 451.18 L228.50 447.13 L229.00 442.91 L229.50 438.52 L230.00 434.46 L230.50 430.24 L231.00 430.02 L231.50 430.12 L232.00 433.33 L232.50 436.35 L233.00 439.56 L233.50 442.60 L234.00 445.48 L234.50 447.91 L235.00 450.18 L235.50 452.32 L236.00 454.62 L236.50 456.79 L237.00 458.83 L237.50 460.79 L238.00 462.62 L238.50 464.35 L239.00 465.74 L239.50 467.04 L240.00 468.24 L240.50 469.58 L241.00 470.81 L241.50 471.94 L242.00 472.58 L242.50 473.20 L243.00 473.81 L243.50 474.62 L244.00 475.37 L244.50 476.04 L245.00 476.71 L245.50 477.31 L246.00 477.83 L246.50 478.27 L247.00 478.65 L247.50 478.99 L248.00 479.26 L248.50 479.50 L249.00 479.72 L249.50 479.92 L250.00 480.10 L250.50 480.26 L251.00 480.39 L251.50 480.51 L252.00 480.60 L252.50 480.69 L253.00 480.76 L253.50 480.81 L254.00 480.86 L254.50 480.90 L255.00 480.92 L255.50 480.95 L256.00 480.96 L256.50 480.98 L257.00 480.99 L257.50 480.99 L258.00 481.00 L258.50 481.00 L259.00 481.00 L259.50 481.00 L260.00 481.00 L260.50 481.00 L261.00 481.00 L261.50 481.00 L262.00 481.00 L262.50 481.00 L263.00 481.00 L263.50 481.00 L264.00 481.00 L264.50 481.00 L265.00 481.00 L265.50 481.00 L266.00 481.00 L266.50 481.00 L267.00 481.00 L267.50 481.00 L268.00 481.00 L268.50 481.00 L269.00 481.00 L269.50 481.00 L270.00 481.00 L270.50 481.00 L271.00 481.00 L271.50 481.00 L272.00 481.00 L272.50 481.00 L273.00 481.00 L273.50 481.00 L274.00 481.00 L274.50 481.00 L275.00 481.00 L275.50 481.00 L276.00 481.00 L276.50 481.00 L277.00 481.00 L277.50 481.00 L278.00 481.00 L278.50 481.00 L279.00 481.00 L279.50 481.00 L280.00 481.00 L280.50 481.00 L281.00 481.00 L281.50 481.00 L282.00 481.00 L282.50 481.00 L283.00 481.00 L283.50 481.00 L284.00 481.00 L284.50 481.00 L285.00 481.00 L285.50 481.00 L286.00 481.00 L286.50 481.00 L287.00 481.00 L287.50 481.00 L288.00 481.00 L288.50 481.00 L289.00 481.00 L289.50 481.00 L290.00 481.00 L290.00 481.00 L195.00 481.00 Z" fill="#868686"/>
<path d="M205.50 480.16 L206.00 479.90 L206.50 479.58 L207.00 479.18 L207.50 478.70 L208.00 478.13 L208.50 477.46 L209.00 476.68 L209.50 475.79 L210.00 474.78 L210.50 473.64 L211.00 472.39 L211.50 471.03 L212.00 469.56 L212.50 468.00 L213.00 466.37 L213.50 464.68 L214.00 462.96 L214.50 461.24 L215.00 459.55 L215.50 457.91 L216.00 456.37 L216.50 454.94 L217.00 453.67 L217.50 452.57 L218.00 451.68 L218.50 451.01 L219.00 450.58 L219.50 450.41 L220.00 450.62 L220.50 451.48 L221.00 452.97 L221.50 455.00 L222.00 457.47 L222.50 460.27 L223.00 463.26 L223.50 466.31 L224.00 469.26 L224.50 472.01 L225.00 474.46 L225.50 476.52 L226.00 478.16 L226.50 479.37 L227.00 480.18" fill="none" stroke="#0a0a0a" stroke-width="1.35" stroke-dasharray="3.6 2.5"/>
<path d="M229.00 480.72 L229.50 480.32 L230.00 479.62 L230.50 478.55 L231.00 477.04 L231.50 474.97 L232.00 472.33 L232.50 469.08 L233.00 465.16 L233.50 460.82 L234.00 455.96 L234.50 450.66 L235.00 445.03 L235.50 438.49 L236.00 431.88 L236.50 425.35 L237.00 419.05 L237.50 414.06 L238.00 409.59 L238.50 405.76 L239.00 402.69 L239.50 400.10 L240.00 398.44 L240.50 397.74 L241.00 398.05 L241.50 398.62 L242.00 400.19 L242.50 402.70 L243.00 406.06 L243.50 411.33 L244.00 417.18 L244.50 423.46 L245.00 430.00 L245.50 435.92 L246.00 441.76 L246.50 447.38 L247.00 452.63 L247.50 457.55 L248.00 461.87 L248.50 465.54 L249.00 468.63 L249.50 471.12 L250.00 472.91 L250.50 474.10 L251.00 474.81 L251.50 475.40 L252.00 475.74 L252.50 475.92 L253.00 476.04 L253.50 476.40 L254.00 476.74 L254.50 477.08 L255.00 477.39 L255.50 477.46 L256.00 477.52 L256.50 477.59 L257.00 477.66 L257.50 477.86 L258.00 478.04 L258.50 478.22 L259.00 478.39 L259.50 478.40 L260.00 478.42 L260.50 478.44 L261.00 478.46 L261.50 478.64 L262.00 478.81 L262.50 478.98 L263.00 479.13 L263.50 479.21 L264.00 479.29 L264.50 479.37 L265.00 479.44 L265.50 479.52 L266.00 479.59 L266.50 479.66 L267.00 479.73 L267.50 479.76 L268.00 479.79 L268.50 479.82 L269.00 479.85 L269.50 479.93 L270.00 480.02 L270.50 480.08 L271.00 480.13 L271.50 480.18 L272.00 480.22 L272.50 480.27 L273.00 480.31 L273.50 480.35 L274.00 480.39 L274.50 480.43 L275.00 480.47 L275.50 480.50 L276.00 480.53 L276.50 480.57 L277.00 480.60 L277.50 480.63 L278.00 480.65 L278.50 480.68 L279.00 480.70 L279.50 480.73 L280.00 480.75 L280.50 480.77 L281.00 480.79 L281.50 480.81 L282.00 480.83 L282.50 480.85 L283.00 480.87 L283.50 480.88 L284.00 480.90 L284.50 480.91 L285.00 480.93 L285.50 480.94 L286.00 480.95 L286.50 480.96 L287.00 480.98 L287.50 480.99 L288.00 481.00 L288.50 481.00 L289.00 481.00 L289.50 481.00 L290.00 481.00" fill="none" stroke="#0a0a0a" stroke-width="1.60" stroke-linejoin="round"/>
</g>
<rect x="195.00" y="385.25" width="95.00" height="95.75" fill="none" stroke="#0a0a0a" stroke-width="1.70"/>
<text x="190.7" y="388.6" text-anchor="end" class="t7">200</text>
<clipPath id="cp_B12"><rect x="309.50" y="385.25" width="94.80" height="95.75"/></clipPath>
<g clip-path="url(#cp_B12)">
<path d="M310.00 481.00 L310.50 481.00 L311.00 481.00 L311.50 481.00 L312.00 481.00 L312.50 481.00 L313.00 481.00 L313.50 481.00 L314.00 481.00 L314.50 481.00 L315.00 481.00 L315.50 481.00 L316.00 481.00 L316.50 481.00 L317.00 481.00 L317.50 481.00 L318.00 481.00 L318.50 481.00 L319.00 481.00 L319.50 481.00 L320.00 481.00 L320.50 481.00 L321.00 481.00 L321.50 481.00 L322.00 481.00 L322.50 481.00 L323.00 481.00 L323.50 481.00 L324.00 481.00 L324.50 481.00 L325.00 481.00 L325.50 481.00 L326.00 481.00 L326.50 481.00 L327.00 481.00 L327.50 481.00 L328.00 481.00 L328.50 481.00 L329.00 481.00 L329.50 481.00 L330.00 481.00 L330.50 481.00 L331.00 481.00 L331.50 481.00 L332.00 481.00 L332.50 481.00 L333.00 481.00 L333.50 481.00 L334.00 481.00 L334.50 481.00 L335.00 481.00 L335.50 481.00 L336.00 481.00 L336.50 480.01 L337.00 478.68 L337.50 476.97 L338.00 474.91 L338.50 472.53 L339.00 469.95 L339.50 467.14 L340.00 464.12 L340.50 460.74 L341.00 457.12 L341.50 453.29 L342.00 449.25 L342.50 444.99 L343.00 440.54 L343.50 435.90 L344.00 431.07 L344.50 426.05 L345.00 421.15 L345.50 416.06 L346.00 410.81 L346.50 408.99 L347.00 408.87 L347.50 413.03 L348.00 417.79 L348.50 422.40 L349.00 426.85 L349.50 430.65 L350.00 434.29 L350.50 437.77 L351.00 441.59 L351.50 445.25 L352.00 448.75 L352.50 451.96 L353.00 455.01 L353.50 457.90 L354.00 460.58 L354.50 463.10 L355.00 465.46 L355.50 467.28 L356.00 469.00 L356.50 470.67 L357.00 472.77 L357.50 474.60 L358.00 476.16 L358.50 477.20 L359.00 478.16 L359.50 479.01 L360.00 479.78 L360.50 480.39 L361.00 480.77 L361.50 481.00 L362.00 481.00 L362.50 481.00 L363.00 481.00 L363.50 481.00 L364.00 481.00 L364.50 481.00 L365.00 481.00 L365.50 481.00 L366.00 481.00 L366.50 481.00 L367.00 481.00 L367.50 481.00 L368.00 481.00 L368.50 481.00 L369.00 481.00 L369.50 481.00 L370.00 481.00 L370.50 481.00 L371.00 481.00 L371.50 481.00 L372.00 481.00 L372.50 481.00 L373.00 481.00 L373.50 481.00 L374.00 481.00 L374.50 481.00 L375.00 481.00 L375.50 481.00 L376.00 481.00 L376.50 481.00 L377.00 481.00 L377.50 481.00 L378.00 481.00 L378.50 481.00 L379.00 481.00 L379.50 481.00 L380.00 481.00 L380.50 481.00 L381.00 481.00 L381.50 481.00 L382.00 481.00 L382.50 481.00 L383.00 481.00 L383.50 481.00 L384.00 481.00 L384.50 481.00 L385.00 481.00 L385.50 481.00 L386.00 481.00 L386.50 481.00 L387.00 481.00 L387.50 481.00 L388.00 481.00 L388.50 481.00 L389.00 481.00 L389.50 481.00 L390.00 481.00 L390.50 481.00 L391.00 481.00 L391.50 481.00 L392.00 481.00 L392.50 481.00 L393.00 481.00 L393.50 481.00 L394.00 481.00 L394.50 481.00 L395.00 481.00 L395.50 481.00 L396.00 481.00 L396.50 481.00 L397.00 481.00 L397.50 481.00 L398.00 481.00 L398.50 481.00 L399.00 481.00 L399.50 481.00 L400.00 481.00 L400.50 481.00 L401.00 481.00 L401.50 481.00 L402.00 481.00 L402.50 481.00 L403.00 481.00 L403.50 481.00 L404.00 481.00 L404.50 481.00 L405.00 481.00 L405.00 481.00 L310.00 481.00 Z" fill="#868686"/>
<path d="M323.50 479.94 L324.00 479.17 L324.50 478.13 L325.00 476.80 L325.50 475.17 L326.00 473.27 L326.50 471.10 L327.00 468.71 L327.50 466.13 L328.00 463.42 L328.50 460.64 L329.00 457.84 L329.50 455.09 L330.00 452.44 L330.50 449.97 L331.00 447.72 L331.50 445.75 L332.00 444.11 L332.50 442.83 L333.00 441.95 L333.50 441.48 L334.00 441.46 L334.50 442.18 L335.00 443.66 L335.50 445.83 L336.00 448.58 L336.50 451.80 L337.00 455.32 L337.50 458.99 L338.00 462.66 L338.50 466.18 L339.00 469.44 L339.50 472.32 L340.00 474.78 L340.50 476.77 L341.00 478.31 L341.50 479.42 L342.00 480.16" fill="none" stroke="#0a0a0a" stroke-width="1.35" stroke-dasharray="3.6 2.5"/>
<path d="M337.50 480.81 L338.00 480.36 L338.50 479.39 L339.00 477.76 L339.50 475.33 L340.00 472.00 L340.50 467.45 L341.00 461.68 L341.50 455.00 L342.00 447.60 L342.50 440.10 L343.00 432.49 L343.50 425.14 L344.00 418.39 L344.50 411.86 L345.00 406.60 L345.50 402.84 L346.00 400.76 L346.50 401.15 L347.00 402.50 L347.50 404.71 L348.00 407.73 L348.50 411.13 L349.00 415.16 L349.50 419.73 L350.00 424.71 L350.50 429.39 L351.00 434.22 L351.50 439.07 L352.00 443.83 L352.50 449.51 L353.00 454.90 L353.50 459.91 L354.00 464.48 L354.50 467.50 L355.00 470.05 L355.50 472.26 L356.00 474.05 L356.50 475.69 L357.00 476.75 L357.50 477.30 L358.00 477.43 L358.50 477.13 L359.00 476.59 L359.50 475.94 L360.00 475.34 L360.50 475.17 L361.00 475.35 L361.50 475.59 L362.00 475.87 L362.50 476.27 L363.00 476.68 L363.50 477.09 L364.00 477.49 L364.50 477.66 L365.00 477.86 L365.50 478.06 L366.00 478.27 L366.50 478.63 L367.00 478.95 L367.50 479.25 L368.00 479.51 L368.50 479.70 L369.00 479.87 L369.50 480.02 L370.00 480.15 L370.50 480.29 L371.00 480.41 L371.50 480.52 L372.00 480.62 L372.50 480.71 L373.00 480.78 L373.50 480.85 L374.00 480.90 L374.50 480.95 L375.00 480.99 L375.50 481.00 L376.00 481.00 L376.50 481.00 L377.00 481.00 L377.50 481.00 L378.00 481.00 L378.50 481.00 L379.00 481.00 L379.50 481.00 L380.00 481.00 L380.50 481.00 L381.00 481.00 L381.50 481.00 L382.00 481.00 L382.50 481.00 L383.00 481.00 L383.50 481.00 L384.00 481.00 L384.50 481.00 L385.00 481.00 L385.50 481.00 L386.00 481.00 L386.50 481.00 L387.00 481.00 L387.50 481.00 L388.00 481.00 L388.50 481.00 L389.00 481.00 L389.50 481.00 L390.00 481.00 L390.50 481.00 L391.00 481.00 L391.50 481.00 L392.00 481.00 L392.50 481.00 L393.00 481.00 L393.50 481.00 L394.00 481.00 L394.50 481.00 L395.00 481.00 L395.50 481.00 L396.00 481.00 L396.50 481.00 L397.00 481.00 L397.50 481.00 L398.00 481.00 L398.50 481.00 L399.00 481.00 L399.50 481.00 L400.00 481.00 L400.50 481.00 L401.00 481.00 L401.50 481.00 L402.00 481.00 L402.50 481.00 L403.00 481.00 L403.50 481.00 L404.00 481.00 L404.50 481.00 L405.00 481.00" fill="none" stroke="#0a0a0a" stroke-width="1.60" stroke-linejoin="round"/>
</g>
<rect x="309.50" y="385.25" width="94.80" height="95.75" fill="none" stroke="#0a0a0a" stroke-width="1.70"/>
<text x="87.7" y="490.4" text-anchor="middle" class="t7">0</text>
<rect x="87.20" y="481.00" width="1.0" height="2.2" fill="#0a0a0a"/>
<text x="98.9" y="490.4" text-anchor="middle" class="t7">10<tspan dy="-2.5" font-size="4.6">2</tspan></text>
<rect x="97.20" y="481.00" width="1.0" height="2.2" fill="#0a0a0a"/>
<text x="121.1" y="490.4" text-anchor="middle" class="t7">10<tspan dy="-2.5" font-size="4.6">3</tspan></text>
<rect x="119.40" y="481.00" width="1.0" height="2.2" fill="#0a0a0a"/>
<text x="143.9" y="490.4" text-anchor="middle" class="t7">10<tspan dy="-2.5" font-size="4.6">4</tspan></text>
<rect x="142.20" y="481.00" width="1.0" height="2.2" fill="#0a0a0a"/>
<text x="165.1" y="490.4" text-anchor="middle" class="t7">10<tspan dy="-2.5" font-size="4.6">5</tspan></text>
<rect x="163.40" y="481.00" width="1.0" height="2.2" fill="#0a0a0a"/>
<text x="204.7" y="490.4" text-anchor="middle" class="t7">0</text>
<rect x="204.20" y="481.00" width="1.0" height="2.2" fill="#0a0a0a"/>
<text x="215.9" y="490.4" text-anchor="middle" class="t7">10<tspan dy="-2.5" font-size="4.6">2</tspan></text>
<rect x="214.20" y="481.00" width="1.0" height="2.2" fill="#0a0a0a"/>
<text x="238.1" y="490.4" text-anchor="middle" class="t7">10<tspan dy="-2.5" font-size="4.6">3</tspan></text>
<rect x="236.40" y="481.00" width="1.0" height="2.2" fill="#0a0a0a"/>
<text x="260.9" y="490.4" text-anchor="middle" class="t7">10<tspan dy="-2.5" font-size="4.6">4</tspan></text>
<rect x="259.20" y="481.00" width="1.0" height="2.2" fill="#0a0a0a"/>
<text x="282.1" y="490.4" text-anchor="middle" class="t7">10<tspan dy="-2.5" font-size="4.6">5</tspan></text>
<rect x="280.40" y="481.00" width="1.0" height="2.2" fill="#0a0a0a"/>
<text x="319.7" y="490.4" text-anchor="middle" class="t7">0</text>
<rect x="319.20" y="481.00" width="1.0" height="2.2" fill="#0a0a0a"/>
<text x="330.9" y="490.4" text-anchor="middle" class="t7">10<tspan dy="-2.5" font-size="4.6">2</tspan></text>
<rect x="329.20" y="481.00" width="1.0" height="2.2" fill="#0a0a0a"/>
<text x="353.1" y="490.4" text-anchor="middle" class="t7">10<tspan dy="-2.5" font-size="4.6">3</tspan></text>
<rect x="351.40" y="481.00" width="1.0" height="2.2" fill="#0a0a0a"/>
<text x="375.9" y="490.4" text-anchor="middle" class="t7">10<tspan dy="-2.5" font-size="4.6">4</tspan></text>
<rect x="374.20" y="481.00" width="1.0" height="2.2" fill="#0a0a0a"/>
<text x="397.1" y="490.4" text-anchor="middle" class="t7">10<tspan dy="-2.5" font-size="4.6">5</tspan></text>
<rect x="395.40" y="481.00" width="1.0" height="2.2" fill="#0a0a0a"/>
<rect x="77.2" y="501.30" width="316" height="3.4" fill="#0a0a0a"/>
<path d="M404.8 503.00 L391.4 498.80 L391.4 507.20 Z" fill="#0a0a0a"/>
<text x="237.6" y="522.3" text-anchor="middle" class="t14">fluorescence intensity</text>
<path d="M424 369.70 H464" stroke="#0a0a0a" stroke-width="3.3" stroke-dasharray="9.2 6.1" fill="none"/>
<rect x="451.4" y="380.70" width="11.8" height="11.6" fill="#999999"/>
<rect x="424" y="403.40" width="39.6" height="3.5" fill="#0a0a0a"/>
<text x="470.8" y="372.1" class="t105">unstained</text>
<text x="470.8" y="390.2" class="t105">w/o</text>
<text x="470.8" y="408.0" class="t105">stimulated</text>
<text x="0.9" y="555.4" class="letter">C</text>
<rect x="18.90" y="565.20" width="3" height="189.50" fill="#0a0a0a"/>
<path d="M20.40 556.20 L24.40 567.80 L16.40 567.80 Z" fill="#0a0a0a"/>
<text transform="translate(12.5 657.2) rotate(-90)" text-anchor="middle" class="t14r">cell count</text>
<text x="120.9" y="550.5" text-anchor="middle" class="t10c">w/o</text>
<text x="240.0" y="550.5" text-anchor="middle" class="t10c">TNF<tspan font-family='"Liberation Serif", "DejaVu Serif", serif' font-size="11.8">α</tspan></text>
<text x="360.8" y="550.5" text-anchor="middle" class="t10c">CXCL1</text>
<clipPath id="cp_C00"><rect x="78.00" y="557.20" width="95.00" height="95.30"/></clipPath>
<g clip-path="url(#cp_C00)">
<path d="M78.00 652.50 L78.50 652.50 L79.00 652.50 L79.50 652.50 L80.00 652.50 L80.50 652.50 L81.00 652.50 L81.50 652.50 L82.00 652.50 L82.50 652.50 L83.00 652.50 L83.50 652.50 L84.00 652.50 L84.50 652.50 L85.00 652.50 L85.50 652.50 L86.00 652.50 L86.50 652.50 L87.00 652.50 L87.50 652.50 L88.00 652.50 L88.50 652.50 L89.00 652.50 L89.50 652.50 L90.00 652.50 L90.50 652.50 L91.00 652.50 L91.50 652.50 L92.00 652.50 L92.50 652.50 L93.00 652.50 L93.50 652.50 L94.00 652.50 L94.50 652.50 L95.00 652.50 L95.50 652.50 L96.00 652.50 L96.50 652.50 L97.00 652.50 L97.50 652.50 L98.00 652.50 L98.50 652.46 L99.00 652.39 L99.50 652.31 L100.00 652.23 L100.50 652.14 L101.00 652.04 L101.50 651.93 L102.00 651.79 L102.50 651.62 L103.00 651.36 L103.50 650.98 L104.00 650.41 L104.50 649.58 L105.00 648.43 L105.50 646.88 L106.00 644.89 L106.50 642.41 L107.00 639.45 L107.50 636.00 L108.00 632.13 L108.50 627.89 L109.00 623.41 L109.50 618.79 L110.00 614.18 L110.50 609.72 L111.00 605.58 L111.50 601.88 L112.00 598.77 L112.50 596.34 L113.00 594.68 L113.50 593.82 L114.00 593.63 L114.50 594.01 L115.00 594.93 L115.50 596.35 L116.00 598.20 L116.50 600.42 L117.00 602.91 L117.50 605.61 L118.00 608.42 L118.50 611.27 L119.00 614.08 L119.50 616.83 L120.00 619.55 L120.50 622.67 L121.00 625.59 L121.50 628.24 L122.00 630.59 L122.50 632.63 L123.00 634.38 L123.50 635.86 L124.00 637.09 L124.50 638.12 L125.00 638.98 L125.50 639.71 L126.00 640.33 L126.50 640.88 L127.00 641.38 L127.50 641.84 L128.00 642.28 L128.50 642.71 L129.00 643.13 L129.50 643.53 L130.00 643.92 L130.50 644.31 L131.00 644.68 L131.50 645.04 L132.00 645.39 L132.50 645.73 L133.00 646.06 L133.50 646.38 L134.00 646.68 L134.50 646.98 L135.00 647.26 L135.50 647.54 L136.00 647.80 L136.50 648.06 L137.00 648.30 L137.50 648.53 L138.00 648.76 L138.50 648.97 L139.00 649.18 L139.50 649.38 L140.00 649.57 L140.50 649.75 L141.00 649.92 L141.50 650.08 L142.00 650.24 L142.50 650.39 L143.00 650.54 L143.50 650.67 L144.00 650.80 L144.50 650.93 L145.00 651.05 L145.50 651.16 L146.00 651.27 L146.50 651.37 L147.00 651.46 L147.50 651.56 L148.00 651.64 L148.50 651.73 L149.00 651.80 L149.50 651.88 L150.00 651.95 L150.50 652.02 L151.00 652.08 L151.50 652.14 L152.00 652.20 L152.50 652.25 L153.00 652.30 L153.50 652.35 L154.00 652.39 L154.50 652.44 L155.00 652.48 L155.50 652.50 L156.00 652.50 L156.50 652.50 L157.00 652.50 L157.50 652.50 L158.00 652.50 L158.50 652.50 L159.00 652.50 L159.50 652.50 L160.00 652.50 L160.50 652.50 L161.00 652.50 L161.50 652.50 L162.00 652.50 L162.50 652.50 L163.00 652.50 L163.50 652.50 L164.00 652.50 L164.50 652.50 L165.00 652.50 L165.50 652.50 L166.00 652.50 L166.50 652.50 L167.00 652.50 L167.50 652.50 L168.00 652.50 L168.50 652.50 L169.00 652.50 L169.50 652.50 L170.00 652.50 L170.50 652.50 L171.00 652.50 L171.50 652.50 L172.00 652.50 L172.50 652.50 L173.00 652.50 L173.00 652.50 L78.00 652.50 Z" fill="#969696"/>
<path d="M85.50 651.53 L86.00 650.53 L86.50 649.00 L87.00 646.86 L87.50 644.05 L88.00 640.55 L88.50 636.36 L89.00 631.53 L89.50 626.14 L90.00 620.29 L90.50 614.11 L91.00 607.74 L91.50 601.36 L92.00 595.11 L92.50 589.19 L93.00 583.73 L93.50 578.91 L94.00 574.85 L94.50 571.68 L95.00 569.47 L95.50 568.29 L96.00 568.19 L96.50 569.18 L97.00 571.25 L97.50 574.32 L98.00 578.29 L98.50 583.04 L99.00 588.41 L99.50 594.24 L100.00 600.35 L100.50 606.58 L101.00 612.75 L101.50 618.72 L102.00 624.35 L102.50 629.53 L103.00 634.19 L103.50 638.26 L104.00 641.73 L104.50 644.61 L105.00 646.91 L105.50 648.70 L106.00 650.03 L106.50 650.98 L107.00 651.62" fill="none" stroke="#0a0a0a" stroke-width="1.3" stroke-dasharray="3.2 2.4"/>
<path d="M100.00 652.23 L100.50 652.14 L101.00 652.04 L101.50 651.93 L102.00 651.79 L102.50 651.62 L103.00 651.35 L103.50 650.98 L104.00 650.45 L104.50 649.59 L105.00 648.37 L105.50 646.72 L106.00 644.54 L106.50 642.11 L107.00 639.26 L107.50 636.02 L108.00 632.36 L108.50 628.19 L109.00 623.76 L109.50 619.21 L110.00 614.66 L110.50 609.88 L111.00 605.41 L111.50 601.40 L112.00 597.96 L112.50 595.97 L113.00 594.73 L113.50 594.31 L114.00 594.54 L114.50 594.49 L115.00 594.97 L115.50 595.96 L116.00 597.38 L116.50 599.88 L117.00 602.67 L117.50 605.66 L118.00 608.76 L118.50 611.40 L119.00 614.01 L119.50 616.56 L120.00 619.07 L120.50 622.33 L121.00 625.40 L121.50 628.19 L122.00 630.67 L122.50 632.91 L123.00 634.84 L123.50 636.51 L124.00 637.94 L124.50 638.97 L125.00 639.81 L125.50 640.50 L126.00 641.09 L126.50 641.59 L127.00 642.05 L127.50 642.47 L128.00 642.87 L128.50 643.27 L129.00 643.65 L129.50 644.03 L130.00 644.40 L130.50 644.74 L131.00 645.07 L131.50 645.40 L132.00 645.71 L132.50 646.02 L133.00 646.31 L133.50 646.60 L134.00 646.87 L134.50 647.17 L135.00 647.46 L135.50 647.73 L136.00 647.99 L136.50 648.16 L137.00 648.32 L137.50 648.49 L138.00 648.65 L138.50 648.90 L139.00 649.14 L139.50 649.37 L140.00 649.58 L140.50 649.79 L141.00 649.99 L141.50 650.17 L142.00 650.35 L142.50 650.50 L143.00 650.65 L143.50 650.79 L144.00 650.92 L144.50 651.00 L145.00 651.08 L145.50 651.16 L146.00 651.24 L146.50 651.35 L147.00 651.45 L147.50 651.56 L148.00 651.64 L148.50 651.73 L149.00 651.80 L149.50 651.88 L150.00 651.95 L150.50 652.02 L151.00 652.08 L151.50 652.14 L152.00 652.20 L152.50 652.25 L153.00 652.30 L153.50 652.35 L154.00 652.39 L154.50 652.44 L155.00 652.48 L155.50 652.50 L156.00 652.50 L156.50 652.50 L157.00 652.50 L157.50 652.50 L158.00 652.50 L158.50 652.50 L159.00 652.50 L159.50 652.50 L160.00 652.50 L160.50 652.50 L161.00 652.50 L161.50 652.50 L162.00 652.50 L162.50 652.50 L163.00 652.50 L163.50 652.50 L164.00 652.50 L164.50 652.50 L165.00 652.50 L165.50 652.50 L166.00 652.50 L166.50 652.50 L167.00 652.50 L167.50 652.50 L168.00 652.50 L168.50 652.50 L169.00 652.50 L169.50 652.50 L170.00 652.50 L170.50 652.50 L171.00 652.50 L171.50 652.50 L172.00 652.50 L172.50 652.50 L173.00 652.50" fill="none" stroke="#0a0a0a" stroke-width="1.85" stroke-linejoin="round"/>
</g>
<rect x="78.00" y="557.20" width="95.00" height="95.30" fill="none" stroke="#0a0a0a" stroke-width="1.70"/>
<text x="74.4" y="560.5" text-anchor="end" class="t7">400</text>
<clipPath id="cp_C01"><rect x="195.00" y="557.20" width="95.00" height="95.30"/></clipPath>
<g clip-path="url(#cp_C01)">
<path d="M195.00 652.50 L195.50 652.50 L196.00 652.50 L196.50 652.50 L197.00 652.50 L197.50 652.50 L198.00 652.50 L198.50 652.50 L199.00 652.50 L199.50 652.50 L200.00 652.50 L200.50 652.50 L201.00 652.50 L201.50 652.50 L202.00 652.50 L202.50 652.50 L203.00 652.50 L203.50 652.50 L204.00 652.50 L204.50 652.50 L205.00 652.50 L205.50 652.50 L206.00 652.50 L206.50 652.50 L207.00 652.50 L207.50 652.50 L208.00 652.50 L208.50 652.50 L209.00 652.50 L209.50 652.50 L210.00 652.50 L210.50 652.50 L211.00 652.50 L211.50 652.50 L212.00 652.50 L212.50 652.50 L213.00 652.50 L213.50 652.50 L214.00 652.50 L214.50 652.50 L215.00 652.50 L215.50 652.50 L216.00 652.50 L216.50 652.50 L217.00 652.50 L217.50 652.50 L218.00 652.50 L218.50 652.50 L219.00 652.50 L219.50 652.50 L220.00 652.50 L220.50 652.50 L221.00 652.48 L221.50 652.32 L222.00 652.13 L222.50 651.90 L223.00 651.62 L223.50 651.29 L224.00 650.89 L224.50 650.42 L225.00 649.86 L225.50 649.20 L226.00 648.42 L226.50 647.50 L227.00 646.43 L227.50 645.19 L228.00 643.76 L228.50 642.12 L229.00 640.26 L229.50 638.16 L230.00 635.83 L230.50 633.27 L231.00 630.48 L231.50 627.50 L232.00 624.36 L232.50 621.10 L233.00 617.78 L233.50 614.48 L234.00 611.27 L234.50 608.24 L235.00 605.45 L235.50 603.01 L236.00 600.98 L236.50 599.44 L237.00 598.44 L237.50 598.01 L238.00 598.11 L238.50 598.62 L239.00 599.53 L239.50 600.81 L240.00 602.43 L240.50 604.36 L241.00 606.54 L241.50 608.93 L242.00 611.48 L242.50 614.14 L243.00 616.86 L243.50 619.58 L244.00 622.28 L244.50 624.90 L245.00 627.42 L245.50 629.82 L246.00 632.06 L246.50 634.15 L247.00 636.06 L247.50 637.80 L248.00 639.36 L248.50 640.76 L249.00 641.99 L249.50 643.06 L250.00 643.99 L250.50 644.79 L251.00 645.46 L251.50 646.03 L252.00 646.50 L252.50 646.90 L253.00 647.26 L253.50 647.72 L254.00 648.13 L254.50 648.49 L255.00 648.81 L255.50 649.10 L256.00 649.35 L256.50 649.58 L257.00 649.78 L257.50 649.94 L258.00 649.99 L258.50 650.04 L259.00 650.10 L259.50 650.15 L260.00 650.20 L260.50 650.26 L261.00 650.31 L261.50 650.36 L262.00 650.41 L262.50 650.46 L263.00 650.51 L263.50 650.56 L264.00 650.61 L264.50 650.66 L265.00 650.71 L265.50 650.75 L266.00 650.80 L266.50 650.84 L267.00 650.89 L267.50 650.93 L268.00 650.97 L268.50 651.01 L269.00 651.05 L269.50 651.09 L270.00 651.13 L270.50 651.17 L271.00 651.21 L271.50 651.25 L272.00 651.28 L272.50 651.32 L273.00 651.35 L273.50 651.39 L274.00 651.42 L274.50 651.45 L275.00 651.48 L275.50 651.51 L276.00 651.54 L276.50 651.57 L277.00 651.60 L277.50 651.63 L278.00 651.66 L278.50 651.68 L279.00 651.71 L279.50 651.74 L280.00 651.76 L280.50 651.78 L281.00 651.81 L281.50 651.83 L282.00 651.85 L282.50 651.88 L283.00 651.90 L283.50 651.92 L284.00 651.94 L284.50 651.96 L285.00 651.98 L285.50 652.00 L286.00 652.01 L286.50 652.03 L287.00 652.05 L287.50 652.06 L288.00 652.08 L288.50 652.10 L289.00 652.11 L289.50 652.13 L290.00 652.14 L290.00 652.50 L195.00 652.50 Z" fill="#969696"/>
<path d="M202.50 651.69 L203.00 650.79 L203.50 649.37 L204.00 647.33 L204.50 644.60 L205.00 641.13 L205.50 636.91 L206.00 632.00 L206.50 626.46 L207.00 620.40 L207.50 613.97 L208.00 607.33 L208.50 600.65 L209.00 594.14 L209.50 587.97 L210.00 582.35 L210.50 577.43 L211.00 573.38 L211.50 570.32 L212.00 568.35 L212.50 567.52 L213.00 567.84 L213.50 569.21 L214.00 571.60 L214.50 574.92 L215.00 579.07 L215.50 583.94 L216.00 589.38 L216.50 595.24 L217.00 601.34 L217.50 607.53 L218.00 613.66 L218.50 619.57 L219.00 625.14 L219.50 630.27 L220.00 634.87 L220.50 638.90 L221.00 642.32 L221.50 645.14 L222.00 647.39 L222.50 649.12 L223.00 650.38 L223.50 651.26" fill="none" stroke="#0a0a0a" stroke-width="1.3" stroke-dasharray="3.2 2.4"/>
<path d="M221.50 652.32 L222.00 652.13 L222.50 651.90 L223.00 651.62 L223.50 651.35 L224.00 650.98 L224.50 650.54 L225.00 650.01 L225.50 649.36 L226.00 648.59 L226.50 647.67 L227.00 646.58 L227.50 645.37 L228.00 643.96 L228.50 642.35 L229.00 640.52 L229.50 638.39 L230.00 635.99 L230.50 633.35 L231.00 630.50 L231.50 627.52 L232.00 624.38 L232.50 621.13 L233.00 617.81 L233.50 614.67 L234.00 611.61 L234.50 608.72 L235.00 606.09 L235.50 603.73 L236.00 601.80 L236.50 600.35 L237.00 599.44 L237.50 598.83 L238.00 598.75 L238.50 599.08 L239.00 599.81 L239.50 601.12 L240.00 602.77 L240.50 604.72 L241.00 606.93 L241.50 609.21 L242.00 611.64 L242.50 614.18 L243.00 616.78 L243.50 619.49 L244.00 622.18 L244.50 624.79 L245.00 627.30 L245.50 629.62 L246.00 631.79 L246.50 633.80 L247.00 635.63 L247.50 637.51 L248.00 639.22 L248.50 640.74 L249.00 642.08 L249.50 643.16 L250.00 644.10 L250.50 644.90 L251.00 645.58 L251.50 646.07 L252.00 646.49 L252.50 646.84 L253.00 647.15 L253.50 647.57 L254.00 647.95 L254.50 648.29 L255.00 648.60 L255.50 648.93 L256.00 649.22 L256.50 649.48 L257.00 649.72 L257.50 649.94 L258.00 650.05 L258.50 650.15 L259.00 650.26 L259.50 650.29 L260.00 650.32 L260.50 650.34 L261.00 650.37 L261.50 650.37 L262.00 650.37 L262.50 650.38 L263.00 650.38 L263.50 650.43 L264.00 650.49 L264.50 650.54 L265.00 650.59 L265.50 650.68 L266.00 650.77 L266.50 650.85 L267.00 650.93 L267.50 650.98 L268.00 651.03 L268.50 651.07 L269.00 651.11 L269.50 651.16 L270.00 651.21 L270.50 651.26 L271.00 651.30 L271.50 651.33 L272.00 651.36 L272.50 651.39 L273.00 651.41 L273.50 651.45 L274.00 651.48 L274.50 651.51 L275.00 651.55 L275.50 651.51 L276.00 651.54 L276.50 651.57 L277.00 651.60 L277.50 651.63 L278.00 651.66 L278.50 651.68 L279.00 651.71 L279.50 651.74 L280.00 651.76 L280.50 651.78 L281.00 651.81 L281.50 651.83 L282.00 651.85 L282.50 651.88 L283.00 651.90 L283.50 651.92 L284.00 651.94 L284.50 651.96 L285.00 651.98 L285.50 652.00 L286.00 652.01 L286.50 652.03 L287.00 652.05 L287.50 652.06 L288.00 652.08 L288.50 652.10 L289.00 652.11 L289.50 652.13 L290.00 652.14" fill="none" stroke="#0a0a0a" stroke-width="1.85" stroke-linejoin="round"/>
</g>
<rect x="195.00" y="557.20" width="95.00" height="95.30" fill="none" stroke="#0a0a0a" stroke-width="1.70"/>
<text x="190.7" y="560.5" text-anchor="end" class="t7">400</text>
<clipPath id="cp_C02"><rect x="310.00" y="557.20" width="94.30" height="95.30"/></clipPath>
<g clip-path="url(#cp_C02)">
<path d="M310.00 652.50 L310.50 652.50 L311.00 652.50 L311.50 652.50 L312.00 652.50 L312.50 652.50 L313.00 652.50 L313.50 652.50 L314.00 652.50 L314.50 652.50 L315.00 652.50 L315.50 652.50 L316.00 652.50 L316.50 652.50 L317.00 652.50 L317.50 652.50 L318.00 652.50 L318.50 652.50 L319.00 652.50 L319.50 652.50 L320.00 652.50 L320.50 652.50 L321.00 652.50 L321.50 652.50 L322.00 652.50 L322.50 652.50 L323.00 652.50 L323.50 652.50 L324.00 652.50 L324.50 652.50 L325.00 652.50 L325.50 652.50 L326.00 652.50 L326.50 652.50 L327.00 652.50 L327.50 652.50 L328.00 652.50 L328.50 652.50 L329.00 652.50 L329.50 652.50 L330.00 652.50 L330.50 652.50 L331.00 652.50 L331.50 652.50 L332.00 652.50 L332.50 652.50 L333.00 652.50 L333.50 652.50 L334.00 652.50 L334.50 652.50 L335.00 652.50 L335.50 652.50 L336.00 652.50 L336.50 652.47 L337.00 652.37 L337.50 652.25 L338.00 652.12 L338.50 651.98 L339.00 651.81 L339.50 651.63 L340.00 651.42 L340.50 651.19 L341.00 650.94 L341.50 650.66 L342.00 650.35 L342.50 650.01 L343.00 649.64 L343.50 649.22 L344.00 648.76 L344.50 648.25 L345.00 647.69 L345.50 647.06 L346.00 646.37 L346.50 645.60 L347.00 644.74 L347.50 643.78 L348.00 642.72 L348.50 641.53 L349.00 640.21 L349.50 638.75 L350.00 637.14 L350.50 635.38 L351.00 633.46 L351.50 631.39 L352.00 629.17 L352.50 626.82 L353.00 624.35 L353.50 621.80 L354.00 619.19 L354.50 616.58 L355.00 614.00 L355.50 611.50 L356.00 609.14 L356.50 606.96 L357.00 605.04 L357.50 603.40 L358.00 602.10 L358.50 601.17 L359.00 600.63 L359.50 600.51 L360.00 600.88 L360.50 601.75 L361.00 603.11 L361.50 604.89 L362.00 607.04 L362.50 609.49 L363.00 612.16 L363.50 614.97 L364.00 617.86 L364.50 620.74 L365.00 623.57 L365.50 626.29 L366.00 628.86 L366.50 631.26 L367.00 633.47 L367.50 635.49 L368.00 637.31 L368.50 638.95 L369.00 640.41 L369.50 641.71 L370.00 642.87 L370.50 643.91 L371.00 644.83 L371.50 645.65 L372.00 646.40 L372.50 647.06 L373.00 647.67 L373.50 648.22 L374.00 648.72 L374.50 649.17 L375.00 649.59 L375.50 649.97 L376.00 650.32 L376.50 650.63 L377.00 650.92 L377.50 651.18 L378.00 651.41 L378.50 651.62 L379.00 651.81 L379.50 651.98 L380.00 652.14 L380.50 652.27 L381.00 652.39 L381.50 652.49 L382.00 652.50 L382.50 652.50 L383.00 652.50 L383.50 652.50 L384.00 652.50 L384.50 652.50 L385.00 652.50 L385.50 652.50 L386.00 652.50 L386.50 652.50 L387.00 652.50 L387.50 652.50 L388.00 652.50 L388.50 652.50 L389.00 652.50 L389.50 652.50 L390.00 652.50 L390.50 652.50 L391.00 652.50 L391.50 652.50 L392.00 652.50 L392.50 652.50 L393.00 652.50 L393.50 652.50 L394.00 652.50 L394.50 652.50 L395.00 652.50 L395.50 652.50 L396.00 652.50 L396.50 652.50 L397.00 652.50 L397.50 652.50 L398.00 652.50 L398.50 652.50 L399.00 652.50 L399.50 652.50 L400.00 652.50 L400.50 652.50 L401.00 652.50 L401.50 652.50 L402.00 652.50 L402.50 652.50 L403.00 652.50 L403.50 652.50 L404.00 652.50 L404.50 652.50 L404.50 652.50 L310.00 652.50 Z" fill="#969696"/>
<path d="M317.50 651.25 L318.00 650.01 L318.50 648.15 L319.00 645.58 L319.50 642.26 L320.00 638.18 L320.50 633.39 L321.00 627.94 L321.50 621.96 L322.00 615.58 L322.50 608.97 L323.00 602.30 L323.50 595.76 L324.00 589.55 L324.50 583.85 L325.00 578.83 L325.50 574.64 L326.00 571.41 L326.50 569.24 L327.00 568.19 L327.50 568.31 L328.00 569.59 L328.50 571.99 L329.00 575.42 L329.50 579.75 L330.00 584.83 L330.50 590.49 L331.00 596.54 L331.50 602.79 L332.00 609.06 L332.50 615.18 L333.00 621.01 L333.50 626.42 L334.00 631.32 L334.50 635.66 L335.00 639.41 L335.50 642.57 L336.00 645.16 L336.50 647.22 L337.00 648.82 L337.50 650.03 L338.00 650.90 L338.50 651.50" fill="none" stroke="#0a0a0a" stroke-width="1.3" stroke-dasharray="3.2 2.4"/>
<path d="M337.50 652.25 L338.00 652.12 L338.50 651.98 L339.00 651.81 L339.50 651.63 L340.00 651.43 L340.50 651.20 L341.00 650.95 L341.50 650.68 L342.00 650.37 L342.50 650.07 L343.00 649.75 L343.50 649.40 L344.00 649.02 L344.50 648.47 L345.00 647.84 L345.50 647.12 L346.00 646.32 L346.50 645.57 L347.00 644.74 L347.50 643.83 L348.00 642.81 L348.50 641.56 L349.00 640.17 L349.50 638.61 L350.00 636.90 L350.50 635.23 L351.00 633.39 L351.50 631.40 L352.00 629.26 L352.50 626.68 L353.00 623.97 L353.50 621.19 L354.00 618.35 L354.50 615.85 L355.00 613.39 L355.50 611.01 L356.00 608.77 L356.50 606.62 L357.00 604.71 L357.50 603.09 L358.00 601.81 L358.50 601.09 L359.00 600.77 L359.50 600.86 L360.00 601.44 L360.50 602.21 L361.00 603.47 L361.50 605.15 L362.00 607.21 L362.50 609.39 L363.00 611.80 L363.50 614.35 L364.00 616.97 L364.50 620.15 L365.00 623.27 L365.50 626.29 L366.00 629.16 L366.50 631.65 L367.00 633.96 L367.50 636.07 L368.00 637.99 L368.50 639.50 L369.00 640.80 L369.50 641.98 L370.00 643.04 L370.50 644.13 L371.00 645.09 L371.50 645.94 L372.00 646.71 L372.50 647.21 L373.00 647.68 L373.50 648.12 L374.00 648.54 L374.50 649.04 L375.00 649.49 L375.50 649.89 L376.00 650.26 L376.50 650.62 L377.00 650.93 L377.50 651.21 L378.00 651.46 L378.50 651.62 L379.00 651.81 L379.50 651.98 L380.00 652.14 L380.50 652.27 L381.00 652.39 L381.50 652.49 L382.00 652.50 L382.50 652.50 L383.00 652.50 L383.50 652.50 L384.00 652.50 L384.50 652.50 L385.00 652.50 L385.50 652.50 L386.00 652.50 L386.50 652.50 L387.00 652.50 L387.50 652.50 L388.00 652.50 L388.50 652.50 L389.00 652.50 L389.50 652.50 L390.00 652.50 L390.50 652.50 L391.00 652.50 L391.50 652.50 L392.00 652.50 L392.50 652.50 L393.00 652.50 L393.50 652.50 L394.00 652.50 L394.50 652.50 L395.00 652.50 L395.50 652.50 L396.00 652.50 L396.50 652.50 L397.00 652.50 L397.50 652.50 L398.00 652.50 L398.50 652.50 L399.00 652.50 L399.50 652.50 L400.00 652.50 L400.50 652.50 L401.00 652.50 L401.50 652.50 L402.00 652.50 L402.50 652.50 L403.00 652.50 L403.50 652.50 L404.00 652.50 L404.50 652.50" fill="none" stroke="#0a0a0a" stroke-width="1.85" stroke-linejoin="round"/>
</g>
<rect x="310.00" y="557.20" width="94.30" height="95.30" fill="none" stroke="#0a0a0a" stroke-width="1.70"/>
<text x="306.4" y="560.5" text-anchor="end" class="t7">400</text>
<clipPath id="cp_C10"><rect x="77.00" y="657.40" width="95.20" height="95.70"/></clipPath>
<g clip-path="url(#cp_C10)">
<path d="M78.00 753.10 L78.50 753.10 L79.00 753.10 L79.50 753.10 L80.00 753.10 L80.50 753.10 L81.00 753.10 L81.50 753.10 L82.00 753.10 L82.50 753.10 L83.00 753.10 L83.50 753.10 L84.00 753.10 L84.50 753.10 L85.00 753.10 L85.50 753.10 L86.00 753.10 L86.50 753.10 L87.00 753.10 L87.50 753.10 L88.00 753.10 L88.50 753.10 L89.00 753.10 L89.50 753.10 L90.00 753.10 L90.50 753.10 L91.00 753.10 L91.50 753.10 L92.00 753.10 L92.50 753.10 L93.00 753.10 L93.50 753.10 L94.00 753.10 L94.50 753.10 L95.00 753.10 L95.50 753.10 L96.00 753.10 L96.50 753.06 L97.00 752.99 L97.50 752.91 L98.00 752.83 L98.50 752.74 L99.00 752.64 L99.50 752.53 L100.00 752.39 L100.50 752.22 L101.00 751.96 L101.50 751.57 L102.00 750.99 L102.50 750.15 L103.00 748.98 L103.50 747.41 L104.00 745.38 L104.50 742.86 L105.00 739.84 L105.50 736.33 L106.00 732.39 L106.50 728.08 L107.00 723.51 L107.50 718.80 L108.00 714.11 L108.50 709.58 L109.00 705.36 L109.50 701.60 L110.00 698.43 L110.50 695.97 L111.00 694.28 L111.50 693.42 L112.00 693.23 L112.50 693.63 L113.00 694.59 L113.50 696.05 L114.00 697.95 L114.50 700.22 L115.00 702.78 L115.50 705.55 L116.00 708.43 L116.50 711.35 L117.00 714.24 L117.50 717.06 L118.00 719.85 L118.50 723.03 L119.00 726.01 L119.50 728.70 L120.00 731.09 L120.50 733.16 L121.00 734.94 L121.50 736.44 L122.00 737.69 L122.50 738.72 L123.00 739.59 L123.50 740.31 L124.00 740.94 L124.50 741.48 L125.00 741.98 L125.50 742.44 L126.00 742.89 L126.50 743.31 L127.00 743.73 L127.50 744.13 L128.00 744.52 L128.50 744.91 L129.00 745.28 L129.50 745.64 L130.00 745.99 L130.50 746.33 L131.00 746.66 L131.50 746.98 L132.00 747.28 L132.50 747.58 L133.00 747.86 L133.50 748.14 L134.00 748.40 L134.50 748.66 L135.00 748.90 L135.50 749.13 L136.00 749.36 L136.50 749.57 L137.00 749.78 L137.50 749.98 L138.00 750.17 L138.50 750.35 L139.00 750.52 L139.50 750.68 L140.00 750.84 L140.50 750.99 L141.00 751.14 L141.50 751.27 L142.00 751.40 L142.50 751.53 L143.00 751.65 L143.50 751.76 L144.00 751.87 L144.50 751.97 L145.00 752.06 L145.50 752.16 L146.00 752.24 L146.50 752.33 L147.00 752.40 L147.50 752.48 L148.00 752.55 L148.50 752.62 L149.00 752.68 L149.50 752.74 L150.00 752.80 L150.50 752.85 L151.00 752.90 L151.50 752.95 L152.00 752.99 L152.50 753.04 L153.00 753.08 L153.50 753.10 L154.00 753.10 L154.50 753.10 L155.00 753.10 L155.50 753.10 L156.00 753.10 L156.50 753.10 L157.00 753.10 L157.50 753.10 L158.00 753.10 L158.50 753.10 L159.00 753.10 L159.50 753.10 L160.00 753.10 L160.50 753.10 L161.00 753.10 L161.50 753.10 L162.00 753.10 L162.50 753.10 L163.00 753.10 L163.50 753.10 L164.00 753.10 L164.50 753.10 L165.00 753.10 L165.50 753.10 L166.00 753.10 L166.50 753.10 L167.00 753.10 L167.50 753.10 L168.00 753.10 L168.50 753.10 L169.00 753.10 L169.50 753.10 L170.00 753.10 L170.50 753.10 L171.00 753.10 L171.50 753.10 L172.00 753.10 L172.50 753.10 L173.00 753.10 L173.00 753.10 L78.00 753.10 Z" fill="#969696"/>
<path d="M85.00 751.63 L85.50 750.31 L86.00 748.34 L86.50 745.63 L87.00 742.11 L87.50 737.78 L88.00 732.66 L88.50 726.83 L89.00 720.42 L89.50 713.60 L90.00 706.56 L90.50 699.53 L91.00 692.73 L91.50 686.39 L92.00 680.75 L92.50 675.99 L93.00 672.30 L93.50 669.81 L94.00 668.61 L94.50 668.66 L95.00 669.65 L95.50 671.51 L96.00 674.20 L96.50 677.64 L97.00 681.75 L97.50 686.44 L98.00 691.58 L98.50 697.06 L99.00 702.74 L99.50 708.50 L100.00 714.22 L100.50 719.76 L101.00 725.04 L101.50 729.96 L102.00 734.44 L102.50 738.42 L103.00 741.88 L103.50 744.81 L104.00 747.20 L104.50 749.09 L105.00 750.52 L105.50 751.55 L106.00 752.24" fill="none" stroke="#0a0a0a" stroke-width="1.3" stroke-dasharray="3.2 2.4"/>
<path d="M98.50 752.83 L99.00 752.74 L99.50 752.64 L100.00 752.53 L100.50 752.38 L101.00 752.19 L101.50 751.93 L102.00 751.54 L102.50 750.85 L103.00 749.86 L103.50 748.47 L104.00 746.59 L104.50 744.49 L105.00 741.98 L105.50 739.07 L106.00 735.80 L106.50 731.92 L107.00 727.74 L107.50 723.35 L108.00 718.87 L108.50 714.40 L109.00 710.09 L109.50 706.07 L110.00 702.46 L110.50 699.73 L111.00 697.62 L111.50 696.20 L112.00 695.49 L112.50 695.24 L113.00 695.57 L113.50 696.44 L114.00 697.81 L114.50 699.15 L115.00 700.85 L115.50 702.86 L116.00 705.07 L116.50 708.19 L117.00 711.36 L117.50 714.52 L118.00 717.63 L118.50 720.30 L119.00 723.39 L119.50 726.28 L120.00 728.92 L120.50 731.41 L121.00 733.60 L121.50 735.49 L122.00 737.12 L122.50 738.24 L123.00 739.15 L123.50 739.87 L124.00 740.45 L124.50 741.13 L125.00 741.72 L125.50 742.26 L126.00 742.75 L126.50 743.12 L127.00 743.47 L127.50 743.82 L128.00 744.16 L128.50 744.41 L129.00 744.66 L129.50 744.91 L130.00 745.17 L130.50 745.66 L131.00 746.12 L131.50 746.56 L132.00 746.98 L132.50 747.30 L133.00 747.61 L133.50 747.91 L134.00 748.19 L134.50 748.40 L135.00 748.60 L135.50 748.79 L136.00 748.99 L136.50 749.23 L137.00 749.46 L137.50 749.68 L138.00 749.89 L138.50 750.14 L139.00 750.37 L139.50 750.58 L140.00 750.79 L140.50 750.89 L141.00 750.99 L141.50 751.08 L142.00 751.18 L142.50 751.32 L143.00 751.46 L143.50 751.58 L144.00 751.70 L144.50 751.84 L145.00 751.96 L145.50 752.08 L146.00 752.16 L146.50 752.24 L147.00 752.33 L147.50 752.40 L148.00 752.48 L148.50 752.55 L149.00 752.62 L149.50 752.68 L150.00 752.74 L150.50 752.80 L151.00 752.85 L151.50 752.90 L152.00 752.95 L152.50 752.99 L153.00 753.04 L153.50 753.08 L154.00 753.10 L154.50 753.10 L155.00 753.10 L155.50 753.10 L156.00 753.10 L156.50 753.10 L157.00 753.10 L157.50 753.10 L158.00 753.10 L158.50 753.10 L159.00 753.10 L159.50 753.10 L160.00 753.10 L160.50 753.10 L161.00 753.10 L161.50 753.10 L162.00 753.10 L162.50 753.10 L163.00 753.10 L163.50 753.10 L164.00 753.10 L164.50 753.10 L165.00 753.10 L165.50 753.10 L166.00 753.10 L166.50 753.10 L167.00 753.10 L167.50 753.10 L168.00 753.10 L168.50 753.10 L169.00 753.10 L169.50 753.10 L170.00 753.10 L170.50 753.10 L171.00 753.10 L171.50 753.10 L172.00 753.10 L172.50 753.10 L173.00 753.10" fill="none" stroke="#0a0a0a" stroke-width="1.85" stroke-linejoin="round"/>
</g>
<rect x="77.00" y="657.40" width="95.20" height="95.70" fill="none" stroke="#0a0a0a" stroke-width="1.70"/>
<text x="74.4" y="660.7" text-anchor="end" class="t7">400</text>
<clipPath id="cp_C11"><rect x="195.00" y="657.40" width="95.00" height="95.70"/></clipPath>
<g clip-path="url(#cp_C11)">
<path d="M195.00 753.10 L195.50 753.10 L196.00 753.10 L196.50 753.10 L197.00 753.10 L197.50 753.10 L198.00 753.10 L198.50 753.10 L199.00 753.10 L199.50 753.10 L200.00 753.10 L200.50 753.10 L201.00 753.10 L201.50 753.10 L202.00 753.10 L202.50 753.10 L203.00 753.10 L203.50 753.10 L204.00 753.10 L204.50 753.10 L205.00 753.10 L205.50 753.10 L206.00 753.10 L206.50 753.10 L207.00 753.10 L207.50 753.10 L208.00 753.10 L208.50 753.10 L209.00 753.10 L209.50 753.10 L210.00 753.10 L210.50 753.10 L211.00 753.10 L211.50 753.10 L212.00 753.10 L212.50 753.10 L213.00 753.10 L213.50 753.10 L214.00 753.10 L214.50 753.10 L215.00 753.10 L215.50 753.10 L216.00 753.10 L216.50 753.10 L217.00 753.10 L217.50 753.10 L218.00 753.10 L218.50 753.10 L219.00 753.10 L219.50 753.10 L220.00 753.10 L220.50 753.10 L221.00 753.10 L221.50 753.10 L222.00 752.99 L222.50 752.78 L223.00 752.52 L223.50 752.19 L224.00 751.79 L224.50 751.31 L225.00 750.72 L225.50 750.01 L226.00 749.17 L226.50 748.17 L227.00 746.99 L227.50 745.63 L228.00 744.07 L228.50 742.29 L229.00 740.28 L229.50 738.05 L230.00 735.59 L230.50 732.92 L231.00 730.06 L231.50 727.05 L232.00 723.91 L232.50 720.70 L233.00 717.48 L233.50 714.32 L234.00 711.28 L234.50 708.43 L235.00 705.85 L235.50 703.61 L236.00 701.77 L236.50 700.38 L237.00 699.48 L237.50 699.11 L238.00 699.24 L238.50 699.79 L239.00 700.74 L239.50 702.08 L240.00 703.77 L240.50 705.77 L241.00 708.04 L241.50 710.51 L242.00 713.14 L242.50 715.89 L243.00 718.68 L243.50 721.49 L244.00 724.26 L244.50 726.96 L245.00 729.55 L245.50 732.02 L246.00 734.34 L246.50 736.49 L247.00 738.48 L247.50 740.30 L248.00 741.95 L248.50 743.43 L249.00 744.76 L249.50 745.94 L250.00 746.98 L250.50 747.90 L251.00 748.71 L251.50 749.42 L252.00 750.03 L252.50 750.57 L253.00 751.03 L253.50 751.44 L254.00 751.78 L254.50 752.08 L255.00 752.34 L255.50 752.56 L256.00 752.75 L256.50 752.91 L257.00 753.05 L257.50 753.10 L258.00 753.10 L258.50 753.10 L259.00 753.10 L259.50 753.10 L260.00 753.10 L260.50 753.10 L261.00 753.10 L261.50 753.10 L262.00 753.10 L262.50 753.10 L263.00 753.10 L263.50 753.10 L264.00 753.10 L264.50 753.10 L265.00 753.10 L265.50 753.10 L266.00 753.10 L266.50 753.10 L267.00 753.10 L267.50 753.10 L268.00 753.10 L268.50 753.10 L269.00 753.10 L269.50 753.10 L270.00 753.10 L270.50 753.10 L271.00 753.10 L271.50 753.10 L272.00 753.10 L272.50 753.10 L273.00 753.10 L273.50 753.10 L274.00 753.10 L274.50 753.10 L275.00 753.10 L275.50 753.10 L276.00 753.10 L276.50 753.10 L277.00 753.10 L277.50 753.10 L278.00 753.10 L278.50 753.10 L279.00 753.10 L279.50 753.10 L280.00 753.10 L280.50 753.10 L281.00 753.10 L281.50 753.10 L282.00 753.10 L282.50 753.10 L283.00 753.10 L283.50 753.10 L284.00 753.10 L284.50 753.10 L285.00 753.10 L285.50 753.10 L286.00 753.10 L286.50 753.10 L287.00 753.10 L287.50 753.10 L288.00 753.10 L288.50 753.10 L289.00 753.10 L289.50 753.10 L290.00 753.10 L290.00 753.10 L195.00 753.10 Z" fill="#969696"/>
<path d="M203.00 751.71 L203.50 750.49 L204.00 748.70 L204.50 746.26 L205.00 743.11 L205.50 739.23 L206.00 734.63 L206.50 729.38 L207.00 723.57 L207.50 717.33 L208.00 710.80 L208.50 704.16 L209.00 697.60 L209.50 691.31 L210.00 685.47 L210.50 680.27 L211.00 675.87 L211.50 672.41 L212.00 670.00 L212.50 668.71 L213.00 668.59 L213.50 669.54 L214.00 671.53 L214.50 674.49 L215.00 678.33 L215.50 682.93 L216.00 688.14 L216.50 693.82 L217.00 699.80 L217.50 705.91 L218.00 712.01 L218.50 717.94 L219.00 723.56 L219.50 728.78 L220.00 733.51 L220.50 737.69 L221.00 741.29 L221.50 744.31 L222.00 746.77 L222.50 748.71 L223.00 750.18 L223.50 751.25 L224.00 752.00" fill="none" stroke="#0a0a0a" stroke-width="1.3" stroke-dasharray="3.2 2.4"/>
<path d="M222.00 752.79 L222.50 752.61 L223.00 752.40 L223.50 752.14 L224.00 751.87 L224.50 751.51 L225.00 751.07 L225.50 750.56 L226.00 749.95 L226.50 749.24 L227.00 748.41 L227.50 747.57 L228.00 746.62 L228.50 745.56 L229.00 744.40 L229.50 742.90 L230.00 741.22 L230.50 739.36 L231.00 737.37 L231.50 735.97 L232.00 734.45 L232.50 732.85 L233.00 731.18 L233.50 728.86 L234.00 726.53 L234.50 724.20 L235.00 721.93 L235.50 720.06 L236.00 718.32 L236.50 716.73 L237.00 715.33 L237.50 713.61 L238.00 712.14 L238.50 710.94 L239.00 710.03 L239.50 709.85 L240.00 709.99 L240.50 710.46 L241.00 711.26 L241.50 712.18 L242.00 713.38 L242.50 714.82 L243.00 716.46 L243.50 718.88 L244.00 721.42 L244.50 724.04 L245.00 726.69 L245.50 728.41 L246.00 730.08 L246.50 731.69 L247.00 733.21 L247.50 735.43 L248.00 737.52 L248.50 739.48 L249.00 741.22 L249.50 742.44 L250.00 743.53 L250.50 744.50 L251.00 745.36 L251.50 746.17 L252.00 746.87 L252.50 747.47 L253.00 747.98 L253.50 748.36 L254.00 748.68 L254.50 748.96 L255.00 749.22 L255.50 749.51 L256.00 749.78 L256.50 750.03 L257.00 750.26 L257.50 750.55 L258.00 750.81 L258.50 751.03 L259.00 751.24 L259.50 751.38 L260.00 751.51 L260.50 751.56 L261.00 751.60 L261.50 751.64 L262.00 751.68 L262.50 751.71 L263.00 751.75 L263.50 751.80 L264.00 751.84 L264.50 751.88 L265.00 751.92 L265.50 751.97 L266.00 752.03 L266.50 752.08 L267.00 752.14 L267.50 752.17 L268.00 752.21 L268.50 752.25 L269.00 752.28 L269.50 752.32 L270.00 752.35 L270.50 752.38 L271.00 752.42 L271.50 752.45 L272.00 752.48 L272.50 752.50 L273.00 752.53 L273.50 752.56 L274.00 752.58 L274.50 752.61 L275.00 752.63 L275.50 752.66 L276.00 752.68 L276.50 752.70 L277.00 752.72 L277.50 752.74 L278.00 752.76 L278.50 752.78 L279.00 752.80 L279.50 752.81 L280.00 752.83 L280.50 752.85 L281.00 752.86 L281.50 752.88 L282.00 752.89 L282.50 752.90 L283.00 752.92 L283.50 752.93 L284.00 752.94 L284.50 752.95 L285.00 752.96 L285.50 752.97 L286.00 752.98 L286.50 752.99 L287.00 753.00 L287.50 753.01 L288.00 753.02 L288.50 753.02 L289.00 753.03 L289.50 753.04 L290.00 753.04" fill="none" stroke="#0a0a0a" stroke-width="1.85" stroke-linejoin="round"/>
</g>
<rect x="195.00" y="657.40" width="95.00" height="95.70" fill="none" stroke="#0a0a0a" stroke-width="1.70"/>
<text x="190.7" y="660.7" text-anchor="end" class="t7">400</text>
<clipPath id="cp_C12"><rect x="309.50" y="657.40" width="94.80" height="95.70"/></clipPath>
<g clip-path="url(#cp_C12)">
<path d="M310.00 753.10 L310.50 753.10 L311.00 753.10 L311.50 753.10 L312.00 753.10 L312.50 753.10 L313.00 753.10 L313.50 753.10 L314.00 753.10 L314.50 753.10 L315.00 753.10 L315.50 753.10 L316.00 753.10 L316.50 753.10 L317.00 753.10 L317.50 753.10 L318.00 753.10 L318.50 753.10 L319.00 753.10 L319.50 753.10 L320.00 753.10 L320.50 753.10 L321.00 753.10 L321.50 753.10 L322.00 753.10 L322.50 753.10 L323.00 753.10 L323.50 753.10 L324.00 753.10 L324.50 753.10 L325.00 753.10 L325.50 753.10 L326.00 753.10 L326.50 753.10 L327.00 753.10 L327.50 753.10 L328.00 753.10 L328.50 753.10 L329.00 753.10 L329.50 753.10 L330.00 753.10 L330.50 753.10 L331.00 753.10 L331.50 753.10 L332.00 753.10 L332.50 753.10 L333.00 753.10 L333.50 753.10 L334.00 753.10 L334.50 753.10 L335.00 753.10 L335.50 753.10 L336.00 753.10 L336.50 753.10 L337.00 753.10 L337.50 753.10 L338.00 753.02 L338.50 752.90 L339.00 752.76 L339.50 752.60 L340.00 752.43 L340.50 752.23 L341.00 752.01 L341.50 751.76 L342.00 751.49 L342.50 751.18 L343.00 750.84 L343.50 750.45 L344.00 750.03 L344.50 749.56 L345.00 749.03 L345.50 748.44 L346.00 747.78 L346.50 747.05 L347.00 746.23 L347.50 745.31 L348.00 744.27 L348.50 743.12 L349.00 741.82 L349.50 740.38 L350.00 738.77 L350.50 737.00 L351.00 735.05 L351.50 732.92 L352.00 730.63 L352.50 728.17 L353.00 725.57 L353.50 722.86 L354.00 720.07 L354.50 717.25 L355.00 714.44 L355.50 711.71 L356.00 709.11 L356.50 706.71 L357.00 704.57 L357.50 702.75 L358.00 701.29 L358.50 700.25 L359.00 699.65 L359.50 699.51 L360.00 699.87 L360.50 700.72 L361.00 702.05 L361.50 703.81 L362.00 705.93 L362.50 708.37 L363.00 711.04 L363.50 713.87 L364.00 716.80 L364.50 719.76 L365.00 722.68 L365.50 725.52 L366.00 728.24 L366.50 730.80 L367.00 733.18 L367.50 735.38 L368.00 737.38 L368.50 739.19 L369.00 740.81 L369.50 742.27 L370.00 743.56 L370.50 744.71 L371.00 745.73 L371.50 746.64 L372.00 747.45 L372.50 748.16 L373.00 748.80 L373.50 749.37 L374.00 749.88 L374.50 750.34 L375.00 750.75 L375.50 751.11 L376.00 751.44 L376.50 751.73 L377.00 751.99 L377.50 752.22 L378.00 752.43 L378.50 752.61 L379.00 752.77 L379.50 752.91 L380.00 753.04 L380.50 753.10 L381.00 753.10 L381.50 753.10 L382.00 753.10 L382.50 753.10 L383.00 753.10 L383.50 753.10 L384.00 753.10 L384.50 753.10 L385.00 753.10 L385.50 753.10 L386.00 753.10 L386.50 753.10 L387.00 753.10 L387.50 753.10 L388.00 753.10 L388.50 753.10 L389.00 753.10 L389.50 753.10 L390.00 753.10 L390.50 753.10 L391.00 753.10 L391.50 753.10 L392.00 753.10 L392.50 753.10 L393.00 753.10 L393.50 753.10 L394.00 753.10 L394.50 753.10 L395.00 753.10 L395.50 753.10 L396.00 753.10 L396.50 753.10 L397.00 753.10 L397.50 753.10 L398.00 753.10 L398.50 753.10 L399.00 753.10 L399.50 753.10 L400.00 753.10 L400.50 753.10 L401.00 753.10 L401.50 753.10 L402.00 753.10 L402.50 753.10 L403.00 753.10 L403.50 753.10 L404.00 753.10 L404.50 753.10 L405.00 753.10 L405.00 753.10 L310.00 753.10 Z" fill="#969696"/>
<path d="M315.00 752.17 L315.50 751.70 L316.00 751.05 L316.50 750.16 L317.00 748.98 L317.50 747.44 L318.00 745.49 L318.50 743.06 L319.00 740.10 L319.50 736.57 L320.00 732.46 L320.50 727.77 L321.00 722.55 L321.50 716.85 L322.00 710.80 L322.50 704.52 L323.00 698.19 L323.50 691.99 L324.00 686.13 L324.50 680.83 L325.00 676.27 L325.50 672.64 L326.00 670.09 L326.50 668.73 L327.00 668.59 L327.50 669.56 L328.00 671.57 L328.50 674.57 L329.00 678.44 L329.50 683.07 L330.00 688.30 L330.50 693.97 L331.00 699.92 L331.50 705.98 L332.00 711.99 L332.50 717.81 L333.00 723.32 L333.50 728.41 L334.00 733.02 L334.50 737.09 L335.00 740.61 L335.50 743.58 L336.00 746.03 L336.50 747.99 L337.00 749.51 L337.50 750.67 L338.00 751.51 L338.50 752.10" fill="none" stroke="#0a0a0a" stroke-width="1.3" stroke-dasharray="3.2 2.4"/>
<path d="M337.00 752.76 L337.50 752.65 L338.00 752.53 L338.50 752.39 L339.00 752.25 L339.50 752.06 L340.00 751.83 L340.50 751.63 L341.00 751.41 L341.50 751.16 L342.00 750.89 L342.50 750.58 L343.00 750.23 L343.50 749.85 L344.00 749.42 L344.50 749.02 L345.00 748.59 L345.50 748.12 L346.00 747.62 L346.50 746.89 L347.00 746.07 L347.50 745.16 L348.00 744.15 L348.50 743.19 L349.00 742.14 L349.50 741.02 L350.00 739.82 L350.50 738.78 L351.00 737.69 L351.50 736.53 L352.00 735.31 L352.50 733.69 L353.00 732.03 L353.50 730.34 L354.00 728.64 L354.50 726.90 L355.00 725.17 L355.50 723.48 L356.00 721.85 L356.50 720.44 L357.00 719.12 L357.50 717.91 L358.00 716.83 L358.50 715.95 L359.00 715.07 L359.50 714.13 L360.00 713.12 L360.50 712.17 L361.00 711.70 L361.50 712.17 L362.00 713.45 L362.50 715.18 L363.00 717.29 L363.50 719.59 L364.00 721.95 L364.50 724.52 L365.00 727.00 L365.50 729.42 L366.00 731.74 L366.50 734.23 L367.00 736.55 L367.50 738.69 L368.00 740.61 L368.50 741.82 L369.00 742.90 L369.50 743.86 L370.00 744.71 L370.50 745.63 L371.00 746.45 L371.50 747.17 L372.00 747.80 L372.50 748.16 L373.00 748.50 L373.50 748.82 L374.00 749.14 L374.50 749.59 L375.00 749.99 L375.50 750.36 L376.00 750.71 L376.50 751.04 L377.00 751.34 L377.50 751.61 L378.00 751.85 L378.50 752.04 L379.00 752.18 L379.50 752.35 L380.00 752.50 L380.50 752.64 L381.00 752.76 L381.50 752.87 L382.00 752.96 L382.50 753.05 L383.00 753.10 L383.50 753.10 L384.00 753.10 L384.50 753.10 L385.00 753.10 L385.50 753.10 L386.00 753.10 L386.50 753.10 L387.00 753.10 L387.50 753.10 L388.00 753.10 L388.50 753.10 L389.00 753.10 L389.50 753.10 L390.00 753.10 L390.50 753.10 L391.00 753.10 L391.50 753.10 L392.00 753.10 L392.50 753.10 L393.00 753.10 L393.50 753.10 L394.00 753.10 L394.50 753.10 L395.00 753.10 L395.50 753.10 L396.00 753.10 L396.50 753.10 L397.00 753.10 L397.50 753.10 L398.00 753.10 L398.50 753.10 L399.00 753.10 L399.50 753.10 L400.00 753.10 L400.50 753.10 L401.00 753.10 L401.50 753.10 L402.00 753.10 L402.50 753.10 L403.00 753.10 L403.50 753.10 L404.00 753.10 L404.50 753.10 L405.00 753.10" fill="none" stroke="#0a0a0a" stroke-width="1.85" stroke-linejoin="round"/>
</g>
<rect x="309.50" y="657.40" width="94.80" height="95.70" fill="none" stroke="#0a0a0a" stroke-width="1.70"/>
<text x="306.4" y="660.7" text-anchor="end" class="t7">400</text>
<text x="87.7" y="762.6" text-anchor="middle" class="t7">0</text>
<rect x="87.20" y="753.10" width="1.0" height="2.2" fill="#0a0a0a"/>
<text x="98.9" y="762.6" text-anchor="middle" class="t7">10<tspan dy="-2.5" font-size="4.6">2</tspan></text>
<rect x="97.20" y="753.10" width="1.0" height="2.2" fill="#0a0a0a"/>
<text x="121.1" y="762.6" text-anchor="middle" class="t7">10<tspan dy="-2.5" font-size="4.6">3</tspan></text>
<rect x="119.40" y="753.10" width="1.0" height="2.2" fill="#0a0a0a"/>
<text x="143.9" y="762.6" text-anchor="middle" class="t7">10<tspan dy="-2.5" font-size="4.6">4</tspan></text>
<rect x="142.20" y="753.10" width="1.0" height="2.2" fill="#0a0a0a"/>
<text x="165.1" y="762.6" text-anchor="middle" class="t7">10<tspan dy="-2.5" font-size="4.6">5</tspan></text>
<rect x="163.40" y="753.10" width="1.0" height="2.2" fill="#0a0a0a"/>
<text x="204.7" y="762.6" text-anchor="middle" class="t7">0</text>
<rect x="204.20" y="753.10" width="1.0" height="2.2" fill="#0a0a0a"/>
<text x="215.9" y="762.6" text-anchor="middle" class="t7">10<tspan dy="-2.5" font-size="4.6">2</tspan></text>
<rect x="214.20" y="753.10" width="1.0" height="2.2" fill="#0a0a0a"/>
<text x="238.1" y="762.6" text-anchor="middle" class="t7">10<tspan dy="-2.5" font-size="4.6">3</tspan></text>
<rect x="236.40" y="753.10" width="1.0" height="2.2" fill="#0a0a0a"/>
<text x="260.9" y="762.6" text-anchor="middle" class="t7">10<tspan dy="-2.5" font-size="4.6">4</tspan></text>
<rect x="259.20" y="753.10" width="1.0" height="2.2" fill="#0a0a0a"/>
<text x="282.1" y="762.6" text-anchor="middle" class="t7">10<tspan dy="-2.5" font-size="4.6">5</tspan></text>
<rect x="280.40" y="753.10" width="1.0" height="2.2" fill="#0a0a0a"/>
<text x="319.7" y="762.6" text-anchor="middle" class="t7">0</text>
<rect x="319.20" y="753.10" width="1.0" height="2.2" fill="#0a0a0a"/>
<text x="330.9" y="762.6" text-anchor="middle" class="t7">10<tspan dy="-2.5" font-size="4.6">2</tspan></text>
<rect x="329.20" y="753.10" width="1.0" height="2.2" fill="#0a0a0a"/>
<text x="353.1" y="762.6" text-anchor="middle" class="t7">10<tspan dy="-2.5" font-size="4.6">3</tspan></text>
<rect x="351.40" y="753.10" width="1.0" height="2.2" fill="#0a0a0a"/>
<text x="375.9" y="762.6" text-anchor="middle" class="t7">10<tspan dy="-2.5" font-size="4.6">4</tspan></text>
<rect x="374.20" y="753.10" width="1.0" height="2.2" fill="#0a0a0a"/>
<text x="397.1" y="762.6" text-anchor="middle" class="t7">10<tspan dy="-2.5" font-size="4.6">5</tspan></text>
<rect x="395.40" y="753.10" width="1.0" height="2.2" fill="#0a0a0a"/>
<rect x="77.2" y="773.40" width="316" height="3.4" fill="#0a0a0a"/>
<path d="M404.8 775.10 L391.4 770.90 L391.4 779.30 Z" fill="#0a0a0a"/>
<text x="237.6" y="793.0" text-anchor="middle" class="t14">fluorescence intensity</text>
<path d="M424 640.00 H464" stroke="#0a0a0a" stroke-width="3.3" stroke-dasharray="9.2 6.1" fill="none"/>
<rect x="451.4" y="651.00" width="11.8" height="11.6" fill="#999999"/>
<rect x="424" y="673.70" width="39.6" height="3.5" fill="#0a0a0a"/>
<text x="470.8" y="642.4" class="t105">unstained</text>
<text x="470.8" y="660.5" class="t105">untreated</text>
<text x="470.8" y="678.3" class="t105">blocked</text>
<text x="30.6" y="68.9" class="t10r">CD18<tspan dx="0.7" dy="-3.4" font-size="6">+/+</tspan></text>
<text x="30.6" y="168.6" class="t10r">CD18<tspan dx="0.7" dy="-3.4" font-size="6">-/-</tspan></text>
<text x="28.2" y="338.6" class="t10r">CD29<tspan dx="0.7" dy="-3.4" font-size="6">+/+</tspan></text>
<text x="28.2" y="438.5" class="t10r">CD29<tspan dx="0.7" dy="-3.4" font-size="6">-/-</tspan></text>
<text x="48.2" y="605.0" text-anchor="middle" class="t10r">anti-</text>
<text x="48.2" y="618.2" text-anchor="middle" class="t10r">CD49d</text>
<text x="34.4" y="712.8" class="t10r">IgG<tspan dy="3.0" font-size="6.8">2b</tspan></text>
</svg>
</body>
</html>
